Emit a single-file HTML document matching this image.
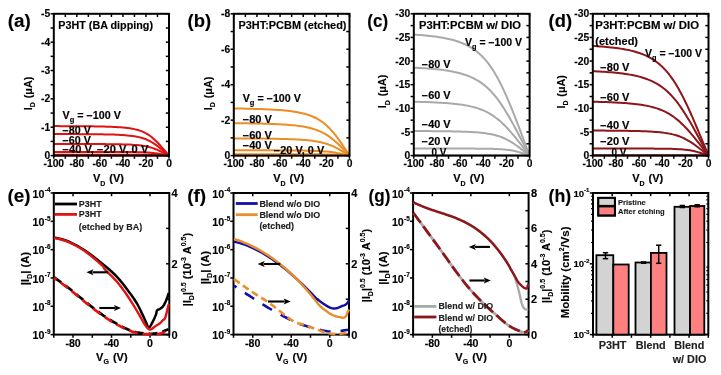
<!DOCTYPE html>
<html><head><meta charset="utf-8"><style>
html,body{margin:0;padding:0;background:#fff;}
body{width:721px;height:375px;overflow:hidden;}
svg{display:block;font-family:"Liberation Sans", sans-serif;will-change:transform;}
text{stroke:#000;stroke-width:0.15px;}
text[fill="#222"]{stroke-width:0.12px;}
</style></head><body>
<svg width="721" height="375" viewBox="0 0 721 375">
<path d="M53.8 126.11 L56.1 126.11 L58.41 126.12 L60.71 126.13 L63.02 126.13 L65.32 126.14 L67.62 126.15 L69.93 126.16 L72.23 126.18 L74.54 126.19 L76.84 126.2 L79.14 126.22 L81.45 126.24 L83.75 126.26 L86.06 126.28 L88.36 126.3 L90.66 126.33 L92.97 126.36 L95.27 126.39 L97.58 126.43 L99.88 126.47 L102.18 126.52 L104.49 126.58 L106.79 126.64 L109.1 126.71 L111.4 126.8 L113.7 126.89 L116.01 127.01 L118.31 127.14 L120.62 127.3 L122.92 127.48 L125.22 127.7 L127.53 127.96 L129.83 128.27 L132.14 128.65 L134.44 129.11 L136.74 129.66 L139.05 130.32 L141.35 131.13 L143.66 132.11 L145.96 133.28 L148.26 134.66 L150.57 136.29 L152.87 138.15 L155.18 140.24 L157.48 142.54 L159.78 145 L162.09 147.58 L164.39 150.23 L166.7 152.91 L169 155.6" fill="none" stroke="#e01212" stroke-width="2.0" stroke-linejoin="round"/>
<path d="M53.8 134.05 L56.1 134.05 L58.41 134.06 L60.71 134.06 L63.02 134.07 L65.32 134.07 L67.62 134.08 L69.93 134.09 L72.23 134.1 L74.54 134.11 L76.84 134.12 L79.14 134.13 L81.45 134.14 L83.75 134.16 L86.06 134.17 L88.36 134.19 L90.66 134.21 L92.97 134.23 L95.27 134.26 L97.58 134.28 L99.88 134.31 L102.18 134.35 L104.49 134.39 L106.79 134.44 L109.1 134.49 L111.4 134.55 L113.7 134.62 L116.01 134.71 L118.31 134.8 L120.62 134.92 L122.92 135.05 L125.22 135.21 L127.53 135.4 L129.83 135.63 L132.14 135.91 L134.44 136.24 L136.74 136.64 L139.05 137.13 L141.35 137.72 L143.66 138.43 L145.96 139.29 L148.26 140.3 L150.57 141.49 L152.87 142.85 L155.18 144.38 L157.48 146.06 L159.78 147.86 L162.09 149.74 L164.39 151.68 L166.7 153.63 L169 155.6" fill="none" stroke="#e01212" stroke-width="2.0" stroke-linejoin="round"/>
<path d="M53.8 143.97 L56.1 143.97 L58.41 143.98 L60.71 143.98 L63.02 143.98 L65.32 143.98 L67.62 143.99 L69.93 143.99 L72.23 143.99 L74.54 144 L76.84 144 L79.14 144.01 L81.45 144.01 L83.75 144.02 L86.06 144.02 L88.36 144.03 L90.66 144.04 L92.97 144.05 L95.27 144.06 L97.58 144.07 L99.88 144.08 L102.18 144.09 L104.49 144.11 L106.79 144.13 L109.1 144.15 L111.4 144.17 L113.7 144.2 L116.01 144.24 L118.31 144.28 L120.62 144.32 L122.92 144.38 L125.22 144.45 L127.53 144.53 L129.83 144.62 L132.14 144.74 L134.44 144.88 L136.74 145.06 L139.05 145.28 L141.35 145.55 L143.66 145.89 L145.96 146.3 L148.26 146.81 L150.57 147.42 L152.87 148.15 L155.18 148.99 L157.48 149.95 L159.78 150.99 L162.09 152.1 L164.39 153.25 L166.7 154.42 L169 155.6" fill="none" stroke="#e01212" stroke-width="2.0" stroke-linejoin="round"/>
<path d="M53.8 151.91 L56.1 151.91 L58.41 151.91 L60.71 151.91 L63.02 151.91 L65.32 151.92 L67.62 151.92 L69.93 151.92 L72.23 151.92 L74.54 151.92 L76.84 151.92 L79.14 151.92 L81.45 151.92 L83.75 151.92 L86.06 151.92 L88.36 151.92 L90.66 151.93 L92.97 151.93 L95.27 151.93 L97.58 151.93 L99.88 151.93 L102.18 151.94 L104.49 151.94 L106.79 151.94 L109.1 151.95 L111.4 151.95 L113.7 151.96 L116.01 151.96 L118.31 151.97 L120.62 151.98 L122.92 151.99 L125.22 152 L127.53 152.02 L129.83 152.04 L132.14 152.06 L134.44 152.09 L136.74 152.13 L139.05 152.18 L141.35 152.24 L143.66 152.32 L145.96 152.42 L148.26 152.55 L150.57 152.72 L152.87 152.93 L155.18 153.19 L157.48 153.51 L159.78 153.87 L162.09 154.28 L164.39 154.71 L166.7 155.15 L169 155.6" fill="none" stroke="#e01212" stroke-width="2.0" stroke-linejoin="round"/>
<path d="M53.8 154.75 L56.1 154.75 L58.41 154.75 L60.71 154.75 L63.02 154.75 L65.32 154.75 L67.62 154.75 L69.93 154.75 L72.23 154.75 L74.54 154.75 L76.84 154.75 L79.14 154.75 L81.45 154.75 L83.75 154.75 L86.06 154.75 L88.36 154.75 L90.66 154.75 L92.97 154.75 L95.27 154.75 L97.58 154.75 L99.88 154.75 L102.18 154.75 L104.49 154.75 L106.79 154.75 L109.1 154.75 L111.4 154.75 L113.7 154.75 L116.01 154.76 L118.31 154.76 L120.62 154.76 L122.92 154.76 L125.22 154.76 L127.53 154.76 L129.83 154.76 L132.14 154.77 L134.44 154.77 L136.74 154.78 L139.05 154.78 L141.35 154.79 L143.66 154.8 L145.96 154.82 L148.26 154.84 L150.57 154.87 L152.87 154.9 L155.18 154.96 L157.48 155.03 L159.78 155.12 L162.09 155.22 L164.39 155.34 L166.7 155.47 L169 155.6" fill="none" stroke="#e01212" stroke-width="2.0" stroke-linejoin="round"/>
<path d="M53.8 155.6 L56.1 155.6 L58.41 155.6 L60.71 155.6 L63.02 155.6 L65.32 155.6 L67.62 155.6 L69.93 155.6 L72.23 155.6 L74.54 155.6 L76.84 155.6 L79.14 155.6 L81.45 155.6 L83.75 155.6 L86.06 155.6 L88.36 155.6 L90.66 155.6 L92.97 155.6 L95.27 155.6 L97.58 155.6 L99.88 155.6 L102.18 155.6 L104.49 155.6 L106.79 155.6 L109.1 155.6 L111.4 155.6 L113.7 155.6 L116.01 155.6 L118.31 155.6 L120.62 155.6 L122.92 155.6 L125.22 155.6 L127.53 155.6 L129.83 155.6 L132.14 155.6 L134.44 155.6 L136.74 155.6 L139.05 155.6 L141.35 155.6 L143.66 155.6 L145.96 155.6 L148.26 155.6 L150.57 155.6 L152.87 155.6 L155.18 155.6 L157.48 155.6 L159.78 155.6 L162.09 155.6 L164.39 155.6 L166.7 155.6 L169 155.6" fill="none" stroke="#e01212" stroke-width="2.0" stroke-linejoin="round"/>
<rect x="53.8" y="13.8" width="115.2" height="141.8" fill="none" stroke="#000" stroke-width="2.0"/>
<line x1="53.8" y1="13.8" x2="53.8" y2="17" stroke="#000" stroke-width="1.5" stroke-linecap="butt"/>
<line x1="65.32" y1="13.8" x2="65.32" y2="17" stroke="#000" stroke-width="1.5" stroke-linecap="butt"/>
<line x1="76.84" y1="13.8" x2="76.84" y2="17" stroke="#000" stroke-width="1.5" stroke-linecap="butt"/>
<line x1="88.36" y1="13.8" x2="88.36" y2="17" stroke="#000" stroke-width="1.5" stroke-linecap="butt"/>
<line x1="99.88" y1="13.8" x2="99.88" y2="17" stroke="#000" stroke-width="1.5" stroke-linecap="butt"/>
<line x1="111.4" y1="13.8" x2="111.4" y2="17" stroke="#000" stroke-width="1.5" stroke-linecap="butt"/>
<line x1="122.92" y1="13.8" x2="122.92" y2="17" stroke="#000" stroke-width="1.5" stroke-linecap="butt"/>
<line x1="134.44" y1="13.8" x2="134.44" y2="17" stroke="#000" stroke-width="1.5" stroke-linecap="butt"/>
<line x1="145.96" y1="13.8" x2="145.96" y2="17" stroke="#000" stroke-width="1.5" stroke-linecap="butt"/>
<line x1="157.48" y1="13.8" x2="157.48" y2="17" stroke="#000" stroke-width="1.5" stroke-linecap="butt"/>
<line x1="169" y1="13.8" x2="169" y2="17" stroke="#000" stroke-width="1.5" stroke-linecap="butt"/>
<line x1="53.8" y1="155.6" x2="53.8" y2="158.8" stroke="#000" stroke-width="1.5" stroke-linecap="butt"/>
<line x1="65.32" y1="155.6" x2="65.32" y2="158.8" stroke="#000" stroke-width="1.5" stroke-linecap="butt"/>
<line x1="76.84" y1="155.6" x2="76.84" y2="158.8" stroke="#000" stroke-width="1.5" stroke-linecap="butt"/>
<line x1="88.36" y1="155.6" x2="88.36" y2="158.8" stroke="#000" stroke-width="1.5" stroke-linecap="butt"/>
<line x1="99.88" y1="155.6" x2="99.88" y2="158.8" stroke="#000" stroke-width="1.5" stroke-linecap="butt"/>
<line x1="111.4" y1="155.6" x2="111.4" y2="158.8" stroke="#000" stroke-width="1.5" stroke-linecap="butt"/>
<line x1="122.92" y1="155.6" x2="122.92" y2="158.8" stroke="#000" stroke-width="1.5" stroke-linecap="butt"/>
<line x1="134.44" y1="155.6" x2="134.44" y2="158.8" stroke="#000" stroke-width="1.5" stroke-linecap="butt"/>
<line x1="145.96" y1="155.6" x2="145.96" y2="158.8" stroke="#000" stroke-width="1.5" stroke-linecap="butt"/>
<line x1="157.48" y1="155.6" x2="157.48" y2="158.8" stroke="#000" stroke-width="1.5" stroke-linecap="butt"/>
<line x1="169" y1="155.6" x2="169" y2="158.8" stroke="#000" stroke-width="1.5" stroke-linecap="butt"/>
<line x1="50.6" y1="155.6" x2="53.8" y2="155.6" stroke="#000" stroke-width="1.5" stroke-linecap="butt"/>
<line x1="165.8" y1="155.6" x2="169" y2="155.6" stroke="#000" stroke-width="1.5" stroke-linecap="butt"/>
<line x1="50.6" y1="141.42" x2="53.8" y2="141.42" stroke="#000" stroke-width="1.5" stroke-linecap="butt"/>
<line x1="165.8" y1="141.42" x2="169" y2="141.42" stroke="#000" stroke-width="1.5" stroke-linecap="butt"/>
<line x1="50.6" y1="127.24" x2="53.8" y2="127.24" stroke="#000" stroke-width="1.5" stroke-linecap="butt"/>
<line x1="165.8" y1="127.24" x2="169" y2="127.24" stroke="#000" stroke-width="1.5" stroke-linecap="butt"/>
<line x1="50.6" y1="113.06" x2="53.8" y2="113.06" stroke="#000" stroke-width="1.5" stroke-linecap="butt"/>
<line x1="165.8" y1="113.06" x2="169" y2="113.06" stroke="#000" stroke-width="1.5" stroke-linecap="butt"/>
<line x1="50.6" y1="98.88" x2="53.8" y2="98.88" stroke="#000" stroke-width="1.5" stroke-linecap="butt"/>
<line x1="165.8" y1="98.88" x2="169" y2="98.88" stroke="#000" stroke-width="1.5" stroke-linecap="butt"/>
<line x1="50.6" y1="84.7" x2="53.8" y2="84.7" stroke="#000" stroke-width="1.5" stroke-linecap="butt"/>
<line x1="165.8" y1="84.7" x2="169" y2="84.7" stroke="#000" stroke-width="1.5" stroke-linecap="butt"/>
<line x1="50.6" y1="70.52" x2="53.8" y2="70.52" stroke="#000" stroke-width="1.5" stroke-linecap="butt"/>
<line x1="165.8" y1="70.52" x2="169" y2="70.52" stroke="#000" stroke-width="1.5" stroke-linecap="butt"/>
<line x1="50.6" y1="56.34" x2="53.8" y2="56.34" stroke="#000" stroke-width="1.5" stroke-linecap="butt"/>
<line x1="165.8" y1="56.34" x2="169" y2="56.34" stroke="#000" stroke-width="1.5" stroke-linecap="butt"/>
<line x1="50.6" y1="42.16" x2="53.8" y2="42.16" stroke="#000" stroke-width="1.5" stroke-linecap="butt"/>
<line x1="165.8" y1="42.16" x2="169" y2="42.16" stroke="#000" stroke-width="1.5" stroke-linecap="butt"/>
<line x1="50.6" y1="27.98" x2="53.8" y2="27.98" stroke="#000" stroke-width="1.5" stroke-linecap="butt"/>
<line x1="165.8" y1="27.98" x2="169" y2="27.98" stroke="#000" stroke-width="1.5" stroke-linecap="butt"/>
<line x1="50.6" y1="13.8" x2="53.8" y2="13.8" stroke="#000" stroke-width="1.5" stroke-linecap="butt"/>
<line x1="165.8" y1="13.8" x2="169" y2="13.8" stroke="#000" stroke-width="1.5" stroke-linecap="butt"/>
<text x="50.2" y="159.2" font-size="10.3" font-weight="bold" text-anchor="end" fill="#000">0</text>
<text x="50.2" y="130.84" font-size="10.3" font-weight="bold" text-anchor="end" fill="#000">-1</text>
<text x="50.2" y="102.48" font-size="10.3" font-weight="bold" text-anchor="end" fill="#000">-2</text>
<text x="50.2" y="74.12" font-size="10.3" font-weight="bold" text-anchor="end" fill="#000">-3</text>
<text x="50.2" y="45.76" font-size="10.3" font-weight="bold" text-anchor="end" fill="#000">-4</text>
<text x="50.2" y="17.4" font-size="10.3" font-weight="bold" text-anchor="end" fill="#000">-5</text>
<text x="53.8" y="167.2" font-size="10.3" font-weight="bold" text-anchor="middle" fill="#000">-100</text>
<text x="76.84" y="167.2" font-size="10.3" font-weight="bold" text-anchor="middle" fill="#000">-80</text>
<text x="99.88" y="167.2" font-size="10.3" font-weight="bold" text-anchor="middle" fill="#000">-60</text>
<text x="122.92" y="167.2" font-size="10.3" font-weight="bold" text-anchor="middle" fill="#000">-40</text>
<text x="145.96" y="167.2" font-size="10.3" font-weight="bold" text-anchor="middle" fill="#000">-20</text>
<text x="169" y="167.2" font-size="10.3" font-weight="bold" text-anchor="middle" fill="#000">0</text>
<text x="92.9" y="182.3" font-size="11" font-weight="bold">V<tspan font-size="7" dy="3.5">D</tspan><tspan dy="-3.5" dx="1"> (V)</tspan></text>
<text x="31.6" y="110.2" font-size="11" font-weight="bold" textLength="33.5" lengthAdjust="spacingAndGlyphs" transform="rotate(-90 31.6 110.2)">I<tspan font-size="7" dy="3.5">D</tspan><tspan dy="-3.5" dx="1"> (μA)</tspan></text>
<path d="M233.8 108.45 L236.11 108.49 L238.43 108.53 L240.74 108.57 L243.06 108.61 L245.37 108.66 L247.68 108.71 L250 108.76 L252.31 108.82 L254.63 108.89 L256.94 108.96 L259.25 109.03 L261.57 109.11 L263.88 109.2 L266.2 109.3 L268.51 109.41 L270.82 109.52 L273.14 109.65 L275.45 109.79 L277.77 109.95 L280.08 110.12 L282.39 110.31 L284.71 110.53 L287.02 110.76 L289.34 111.03 L291.65 111.32 L293.96 111.65 L296.28 112.03 L298.59 112.45 L300.91 112.92 L303.22 113.46 L305.53 114.07 L307.85 114.77 L310.16 115.56 L312.48 116.47 L314.79 117.5 L317.1 118.68 L319.42 120.03 L321.73 121.55 L324.05 123.28 L326.36 125.23 L328.67 127.41 L330.99 129.83 L333.3 132.48 L335.62 135.36 L337.93 138.44 L340.24 141.68 L342.56 145.06 L344.87 148.53 L347.19 152.06 L349.5 155.6" fill="none" stroke="#ee8c24" stroke-width="2.0" stroke-linejoin="round"/>
<path d="M233.8 123.16 L236.11 123.19 L238.43 123.21 L240.74 123.24 L243.06 123.27 L245.37 123.3 L247.68 123.34 L250 123.38 L252.31 123.42 L254.63 123.46 L256.94 123.51 L259.25 123.56 L261.57 123.62 L263.88 123.68 L266.2 123.75 L268.51 123.82 L270.82 123.9 L273.14 123.99 L275.45 124.09 L277.77 124.19 L280.08 124.31 L282.39 124.44 L284.71 124.59 L287.02 124.75 L289.34 124.93 L291.65 125.14 L293.96 125.37 L296.28 125.62 L298.59 125.91 L300.91 126.24 L303.22 126.61 L305.53 127.03 L307.85 127.51 L310.16 128.06 L312.48 128.68 L314.79 129.39 L317.1 130.2 L319.42 131.13 L321.73 132.18 L324.05 133.37 L326.36 134.71 L328.67 136.21 L330.99 137.87 L333.3 139.7 L335.62 141.67 L337.93 143.79 L340.24 146.03 L342.56 148.35 L344.87 150.74 L347.19 153.16 L349.5 155.6" fill="none" stroke="#ee8c24" stroke-width="2.0" stroke-linejoin="round"/>
<path d="M233.8 138.41 L236.11 138.42 L238.43 138.43 L240.74 138.44 L243.06 138.45 L245.37 138.47 L247.68 138.48 L250 138.5 L252.31 138.51 L254.63 138.53 L256.94 138.55 L259.25 138.57 L261.57 138.59 L263.88 138.62 L266.2 138.65 L268.51 138.68 L270.82 138.71 L273.14 138.75 L275.45 138.79 L277.77 138.84 L280.08 138.89 L282.39 138.94 L284.71 139 L287.02 139.07 L289.34 139.15 L291.65 139.24 L293.96 139.34 L296.28 139.45 L298.59 139.57 L300.91 139.72 L303.22 139.88 L305.53 140.07 L307.85 140.29 L310.16 140.53 L312.48 140.82 L314.79 141.15 L317.1 141.54 L319.42 141.99 L321.73 142.5 L324.05 143.1 L326.36 143.78 L328.67 144.56 L330.99 145.45 L333.3 146.44 L335.62 147.54 L337.93 148.73 L340.24 150.01 L342.56 151.36 L344.87 152.75 L347.19 154.17 L349.5 155.6" fill="none" stroke="#ee8c24" stroke-width="2.0" stroke-linejoin="round"/>
<path d="M233.8 150.28 L236.11 150.28 L238.43 150.29 L240.74 150.29 L243.06 150.29 L245.37 150.29 L247.68 150.3 L250 150.3 L252.31 150.3 L254.63 150.31 L256.94 150.31 L259.25 150.32 L261.57 150.32 L263.88 150.33 L266.2 150.33 L268.51 150.34 L270.82 150.34 L273.14 150.35 L275.45 150.36 L277.77 150.37 L280.08 150.38 L282.39 150.39 L284.71 150.4 L287.02 150.42 L289.34 150.43 L291.65 150.45 L293.96 150.47 L296.28 150.5 L298.59 150.52 L300.91 150.55 L303.22 150.59 L305.53 150.63 L307.85 150.68 L310.16 150.74 L312.48 150.8 L314.79 150.88 L317.1 150.98 L319.42 151.09 L321.73 151.22 L324.05 151.38 L326.36 151.57 L328.67 151.79 L330.99 152.05 L333.3 152.36 L335.62 152.72 L337.93 153.12 L340.24 153.56 L342.56 154.04 L344.87 154.55 L347.19 155.07 L349.5 155.6" fill="none" stroke="#ee8c24" stroke-width="2.0" stroke-linejoin="round"/>
<path d="M233.8 154.18 L236.11 154.18 L238.43 154.18 L240.74 154.18 L243.06 154.18 L245.37 154.18 L247.68 154.18 L250 154.18 L252.31 154.19 L254.63 154.19 L256.94 154.19 L259.25 154.19 L261.57 154.19 L263.88 154.19 L266.2 154.19 L268.51 154.19 L270.82 154.19 L273.14 154.19 L275.45 154.19 L277.77 154.2 L280.08 154.2 L282.39 154.2 L284.71 154.2 L287.02 154.2 L289.34 154.21 L291.65 154.21 L293.96 154.21 L296.28 154.22 L298.59 154.22 L300.91 154.23 L303.22 154.23 L305.53 154.24 L307.85 154.25 L310.16 154.26 L312.48 154.27 L314.79 154.28 L317.1 154.3 L319.42 154.32 L321.73 154.35 L324.05 154.38 L326.36 154.42 L328.67 154.47 L330.99 154.53 L333.3 154.6 L335.62 154.7 L337.93 154.81 L340.24 154.94 L342.56 155.09 L344.87 155.25 L347.19 155.42 L349.5 155.6" fill="none" stroke="#ee8c24" stroke-width="2.0" stroke-linejoin="round"/>
<path d="M233.8 155.6 L236.11 155.6 L238.43 155.6 L240.74 155.6 L243.06 155.6 L245.37 155.6 L247.68 155.6 L250 155.6 L252.31 155.6 L254.63 155.6 L256.94 155.6 L259.25 155.6 L261.57 155.6 L263.88 155.6 L266.2 155.6 L268.51 155.6 L270.82 155.6 L273.14 155.6 L275.45 155.6 L277.77 155.6 L280.08 155.6 L282.39 155.6 L284.71 155.6 L287.02 155.6 L289.34 155.6 L291.65 155.6 L293.96 155.6 L296.28 155.6 L298.59 155.6 L300.91 155.6 L303.22 155.6 L305.53 155.6 L307.85 155.6 L310.16 155.6 L312.48 155.6 L314.79 155.6 L317.1 155.6 L319.42 155.6 L321.73 155.6 L324.05 155.6 L326.36 155.6 L328.67 155.6 L330.99 155.6 L333.3 155.6 L335.62 155.6 L337.93 155.6 L340.24 155.6 L342.56 155.6 L344.87 155.6 L347.19 155.6 L349.5 155.6" fill="none" stroke="#ee8c24" stroke-width="2.0" stroke-linejoin="round"/>
<rect x="233.8" y="13.8" width="115.7" height="141.8" fill="none" stroke="#000" stroke-width="2.0"/>
<line x1="233.8" y1="13.8" x2="233.8" y2="17" stroke="#000" stroke-width="1.5" stroke-linecap="butt"/>
<line x1="245.37" y1="13.8" x2="245.37" y2="17" stroke="#000" stroke-width="1.5" stroke-linecap="butt"/>
<line x1="256.94" y1="13.8" x2="256.94" y2="17" stroke="#000" stroke-width="1.5" stroke-linecap="butt"/>
<line x1="268.51" y1="13.8" x2="268.51" y2="17" stroke="#000" stroke-width="1.5" stroke-linecap="butt"/>
<line x1="280.08" y1="13.8" x2="280.08" y2="17" stroke="#000" stroke-width="1.5" stroke-linecap="butt"/>
<line x1="291.65" y1="13.8" x2="291.65" y2="17" stroke="#000" stroke-width="1.5" stroke-linecap="butt"/>
<line x1="303.22" y1="13.8" x2="303.22" y2="17" stroke="#000" stroke-width="1.5" stroke-linecap="butt"/>
<line x1="314.79" y1="13.8" x2="314.79" y2="17" stroke="#000" stroke-width="1.5" stroke-linecap="butt"/>
<line x1="326.36" y1="13.8" x2="326.36" y2="17" stroke="#000" stroke-width="1.5" stroke-linecap="butt"/>
<line x1="337.93" y1="13.8" x2="337.93" y2="17" stroke="#000" stroke-width="1.5" stroke-linecap="butt"/>
<line x1="349.5" y1="13.8" x2="349.5" y2="17" stroke="#000" stroke-width="1.5" stroke-linecap="butt"/>
<line x1="233.8" y1="155.6" x2="233.8" y2="158.8" stroke="#000" stroke-width="1.5" stroke-linecap="butt"/>
<line x1="245.37" y1="155.6" x2="245.37" y2="158.8" stroke="#000" stroke-width="1.5" stroke-linecap="butt"/>
<line x1="256.94" y1="155.6" x2="256.94" y2="158.8" stroke="#000" stroke-width="1.5" stroke-linecap="butt"/>
<line x1="268.51" y1="155.6" x2="268.51" y2="158.8" stroke="#000" stroke-width="1.5" stroke-linecap="butt"/>
<line x1="280.08" y1="155.6" x2="280.08" y2="158.8" stroke="#000" stroke-width="1.5" stroke-linecap="butt"/>
<line x1="291.65" y1="155.6" x2="291.65" y2="158.8" stroke="#000" stroke-width="1.5" stroke-linecap="butt"/>
<line x1="303.22" y1="155.6" x2="303.22" y2="158.8" stroke="#000" stroke-width="1.5" stroke-linecap="butt"/>
<line x1="314.79" y1="155.6" x2="314.79" y2="158.8" stroke="#000" stroke-width="1.5" stroke-linecap="butt"/>
<line x1="326.36" y1="155.6" x2="326.36" y2="158.8" stroke="#000" stroke-width="1.5" stroke-linecap="butt"/>
<line x1="337.93" y1="155.6" x2="337.93" y2="158.8" stroke="#000" stroke-width="1.5" stroke-linecap="butt"/>
<line x1="349.5" y1="155.6" x2="349.5" y2="158.8" stroke="#000" stroke-width="1.5" stroke-linecap="butt"/>
<line x1="230.6" y1="155.6" x2="233.8" y2="155.6" stroke="#000" stroke-width="1.5" stroke-linecap="butt"/>
<line x1="346.3" y1="155.6" x2="349.5" y2="155.6" stroke="#000" stroke-width="1.5" stroke-linecap="butt"/>
<line x1="230.6" y1="137.88" x2="233.8" y2="137.88" stroke="#000" stroke-width="1.5" stroke-linecap="butt"/>
<line x1="346.3" y1="137.88" x2="349.5" y2="137.88" stroke="#000" stroke-width="1.5" stroke-linecap="butt"/>
<line x1="230.6" y1="120.15" x2="233.8" y2="120.15" stroke="#000" stroke-width="1.5" stroke-linecap="butt"/>
<line x1="346.3" y1="120.15" x2="349.5" y2="120.15" stroke="#000" stroke-width="1.5" stroke-linecap="butt"/>
<line x1="230.6" y1="102.42" x2="233.8" y2="102.42" stroke="#000" stroke-width="1.5" stroke-linecap="butt"/>
<line x1="346.3" y1="102.42" x2="349.5" y2="102.42" stroke="#000" stroke-width="1.5" stroke-linecap="butt"/>
<line x1="230.6" y1="84.7" x2="233.8" y2="84.7" stroke="#000" stroke-width="1.5" stroke-linecap="butt"/>
<line x1="346.3" y1="84.7" x2="349.5" y2="84.7" stroke="#000" stroke-width="1.5" stroke-linecap="butt"/>
<line x1="230.6" y1="66.98" x2="233.8" y2="66.98" stroke="#000" stroke-width="1.5" stroke-linecap="butt"/>
<line x1="346.3" y1="66.98" x2="349.5" y2="66.98" stroke="#000" stroke-width="1.5" stroke-linecap="butt"/>
<line x1="230.6" y1="49.25" x2="233.8" y2="49.25" stroke="#000" stroke-width="1.5" stroke-linecap="butt"/>
<line x1="346.3" y1="49.25" x2="349.5" y2="49.25" stroke="#000" stroke-width="1.5" stroke-linecap="butt"/>
<line x1="230.6" y1="31.53" x2="233.8" y2="31.53" stroke="#000" stroke-width="1.5" stroke-linecap="butt"/>
<line x1="346.3" y1="31.53" x2="349.5" y2="31.53" stroke="#000" stroke-width="1.5" stroke-linecap="butt"/>
<line x1="230.6" y1="13.8" x2="233.8" y2="13.8" stroke="#000" stroke-width="1.5" stroke-linecap="butt"/>
<line x1="346.3" y1="13.8" x2="349.5" y2="13.8" stroke="#000" stroke-width="1.5" stroke-linecap="butt"/>
<text x="230.2" y="159.2" font-size="10.3" font-weight="bold" text-anchor="end" fill="#000">0</text>
<text x="230.2" y="123.75" font-size="10.3" font-weight="bold" text-anchor="end" fill="#000">-2</text>
<text x="230.2" y="88.3" font-size="10.3" font-weight="bold" text-anchor="end" fill="#000">-4</text>
<text x="230.2" y="52.85" font-size="10.3" font-weight="bold" text-anchor="end" fill="#000">-6</text>
<text x="230.2" y="17.4" font-size="10.3" font-weight="bold" text-anchor="end" fill="#000">-8</text>
<text x="233.8" y="167.2" font-size="10.3" font-weight="bold" text-anchor="middle" fill="#000">-100</text>
<text x="256.94" y="167.2" font-size="10.3" font-weight="bold" text-anchor="middle" fill="#000">-80</text>
<text x="280.08" y="167.2" font-size="10.3" font-weight="bold" text-anchor="middle" fill="#000">-60</text>
<text x="303.22" y="167.2" font-size="10.3" font-weight="bold" text-anchor="middle" fill="#000">-40</text>
<text x="326.36" y="167.2" font-size="10.3" font-weight="bold" text-anchor="middle" fill="#000">-20</text>
<text x="349.5" y="167.2" font-size="10.3" font-weight="bold" text-anchor="middle" fill="#000">0</text>
<text x="273.15" y="182.3" font-size="11" font-weight="bold">V<tspan font-size="7" dy="3.5">D</tspan><tspan dy="-3.5" dx="1"> (V)</tspan></text>
<text x="211.8" y="110.2" font-size="11" font-weight="bold" textLength="33.5" lengthAdjust="spacingAndGlyphs" transform="rotate(-90 211.8 110.2)">I<tspan font-size="7" dy="3.5">D</tspan><tspan dy="-3.5" dx="1"> (μA)</tspan></text>
<path d="M413.8 34.6 L416.12 34.75 L418.43 34.91 L420.75 35.09 L423.06 35.28 L425.38 35.49 L427.7 35.71 L430.01 35.95 L432.33 36.22 L434.64 36.51 L436.96 36.83 L439.28 37.17 L441.59 37.55 L443.91 37.96 L446.22 38.42 L448.54 38.92 L450.86 39.47 L453.17 40.07 L455.49 40.74 L457.8 41.49 L460.12 42.31 L462.44 43.22 L464.75 44.22 L467.07 45.34 L469.38 46.59 L471.7 47.97 L474.02 49.51 L476.33 51.22 L478.65 53.12 L480.96 55.22 L483.28 57.55 L485.6 60.13 L487.91 62.97 L490.23 66.09 L492.54 69.5 L494.86 73.21 L497.18 77.22 L499.49 81.54 L501.81 86.16 L504.12 91.06 L506.44 96.21 L508.76 101.6 L511.07 107.2 L513.39 112.97 L515.7 118.87 L518.02 124.88 L520.34 130.96 L522.65 137.09 L524.97 143.25 L527.28 149.42 L529.6 155.6" fill="none" stroke="#a9a9a9" stroke-width="2.0" stroke-linejoin="round"/>
<path d="M413.8 67.68 L416.12 67.79 L418.43 67.91 L420.75 68.04 L423.06 68.18 L425.38 68.33 L427.7 68.49 L430.01 68.67 L432.33 68.86 L434.64 69.07 L436.96 69.3 L439.28 69.55 L441.59 69.83 L443.91 70.13 L446.22 70.46 L448.54 70.82 L450.86 71.22 L453.17 71.66 L455.49 72.15 L457.8 72.69 L460.12 73.28 L462.44 73.95 L464.75 74.68 L467.07 75.49 L469.38 76.4 L471.7 77.4 L474.02 78.52 L476.33 79.76 L478.65 81.14 L480.96 82.67 L483.28 84.36 L485.6 86.24 L487.91 88.3 L490.23 90.56 L492.54 93.04 L494.86 95.74 L497.18 98.66 L499.49 101.79 L501.81 105.15 L504.12 108.7 L506.44 112.45 L508.76 116.37 L511.07 120.43 L513.39 124.62 L515.7 128.91 L518.02 133.28 L520.34 137.7 L522.65 142.15 L524.97 146.63 L527.28 151.11 L529.6 155.6" fill="none" stroke="#a9a9a9" stroke-width="2.0" stroke-linejoin="round"/>
<path d="M413.8 101.72 L416.12 101.77 L418.43 101.83 L420.75 101.89 L423.06 101.96 L425.38 102.03 L427.7 102.11 L430.01 102.2 L432.33 102.29 L434.64 102.39 L436.96 102.5 L439.28 102.63 L441.59 102.76 L443.91 102.91 L446.22 103.08 L448.54 103.26 L450.86 103.46 L453.17 103.68 L455.49 103.92 L457.8 104.19 L460.12 104.5 L462.44 104.83 L464.75 105.21 L467.07 105.63 L469.38 106.1 L471.7 106.63 L474.02 107.22 L476.33 107.89 L478.65 108.63 L480.96 109.46 L483.28 110.4 L485.6 111.45 L487.91 112.62 L490.23 113.92 L492.54 115.36 L494.86 116.95 L497.18 118.7 L499.49 120.61 L501.81 122.68 L504.12 124.91 L506.44 127.28 L508.76 129.78 L511.07 132.41 L513.39 135.13 L515.7 137.94 L518.02 140.82 L520.34 143.74 L522.65 146.68 L524.97 149.65 L527.28 152.62 L529.6 155.6" fill="none" stroke="#a9a9a9" stroke-width="2.0" stroke-linejoin="round"/>
<path d="M413.8 131.02 L416.12 131.03 L418.43 131.04 L420.75 131.05 L423.06 131.07 L425.38 131.08 L427.7 131.1 L430.01 131.11 L432.33 131.13 L434.64 131.15 L436.96 131.17 L439.28 131.2 L441.59 131.22 L443.91 131.25 L446.22 131.29 L448.54 131.32 L450.86 131.36 L453.17 131.41 L455.49 131.46 L457.8 131.52 L460.12 131.58 L462.44 131.65 L464.75 131.74 L467.07 131.83 L469.38 131.94 L471.7 132.06 L474.02 132.2 L476.33 132.36 L478.65 132.55 L480.96 132.76 L483.28 133.01 L485.6 133.3 L487.91 133.65 L490.23 134.04 L492.54 134.51 L494.86 135.05 L497.18 135.68 L499.49 136.41 L501.81 137.26 L504.12 138.23 L506.44 139.33 L508.76 140.56 L511.07 141.92 L513.39 143.4 L515.7 144.98 L518.02 146.65 L520.34 148.38 L522.65 150.16 L524.97 151.97 L527.28 153.78 L529.6 155.6" fill="none" stroke="#a9a9a9" stroke-width="2.0" stroke-linejoin="round"/>
<path d="M413.8 148.51 L416.12 148.51 L418.43 148.51 L420.75 148.51 L423.06 148.51 L425.38 148.52 L427.7 148.52 L430.01 148.52 L432.33 148.52 L434.64 148.52 L436.96 148.52 L439.28 148.53 L441.59 148.53 L443.91 148.53 L446.22 148.53 L448.54 148.54 L450.86 148.54 L453.17 148.54 L455.49 148.55 L457.8 148.55 L460.12 148.56 L462.44 148.57 L464.75 148.57 L467.07 148.58 L469.38 148.59 L471.7 148.6 L474.02 148.62 L476.33 148.63 L478.65 148.65 L480.96 148.67 L483.28 148.7 L485.6 148.73 L487.91 148.77 L490.23 148.82 L492.54 148.87 L494.86 148.94 L497.18 149.03 L499.49 149.14 L501.81 149.28 L504.12 149.46 L506.44 149.68 L508.76 149.96 L511.07 150.31 L513.39 150.74 L515.7 151.26 L518.02 151.86 L520.34 152.53 L522.65 153.26 L524.97 154.03 L527.28 154.81 L529.6 155.6" fill="none" stroke="#a9a9a9" stroke-width="2.0" stroke-linejoin="round"/>
<path d="M413.8 155.13 L416.12 155.13 L418.43 155.13 L420.75 155.13 L423.06 155.13 L425.38 155.13 L427.7 155.13 L430.01 155.13 L432.33 155.13 L434.64 155.13 L436.96 155.13 L439.28 155.13 L441.59 155.13 L443.91 155.13 L446.22 155.13 L448.54 155.13 L450.86 155.13 L453.17 155.13 L455.49 155.13 L457.8 155.13 L460.12 155.13 L462.44 155.13 L464.75 155.13 L467.07 155.13 L469.38 155.13 L471.7 155.13 L474.02 155.13 L476.33 155.13 L478.65 155.13 L480.96 155.13 L483.28 155.13 L485.6 155.13 L487.91 155.13 L490.23 155.13 L492.54 155.14 L494.86 155.14 L497.18 155.14 L499.49 155.14 L501.81 155.15 L504.12 155.15 L506.44 155.16 L508.76 155.17 L511.07 155.18 L513.39 155.2 L515.7 155.22 L518.02 155.26 L520.34 155.31 L522.65 155.37 L524.97 155.44 L527.28 155.52 L529.6 155.6" fill="none" stroke="#a9a9a9" stroke-width="2.0" stroke-linejoin="round"/>
<rect x="413.8" y="13.8" width="115.8" height="141.8" fill="none" stroke="#000" stroke-width="2.0"/>
<line x1="413.8" y1="13.8" x2="413.8" y2="17" stroke="#000" stroke-width="1.5" stroke-linecap="butt"/>
<line x1="425.38" y1="13.8" x2="425.38" y2="17" stroke="#000" stroke-width="1.5" stroke-linecap="butt"/>
<line x1="436.96" y1="13.8" x2="436.96" y2="17" stroke="#000" stroke-width="1.5" stroke-linecap="butt"/>
<line x1="448.54" y1="13.8" x2="448.54" y2="17" stroke="#000" stroke-width="1.5" stroke-linecap="butt"/>
<line x1="460.12" y1="13.8" x2="460.12" y2="17" stroke="#000" stroke-width="1.5" stroke-linecap="butt"/>
<line x1="471.7" y1="13.8" x2="471.7" y2="17" stroke="#000" stroke-width="1.5" stroke-linecap="butt"/>
<line x1="483.28" y1="13.8" x2="483.28" y2="17" stroke="#000" stroke-width="1.5" stroke-linecap="butt"/>
<line x1="494.86" y1="13.8" x2="494.86" y2="17" stroke="#000" stroke-width="1.5" stroke-linecap="butt"/>
<line x1="506.44" y1="13.8" x2="506.44" y2="17" stroke="#000" stroke-width="1.5" stroke-linecap="butt"/>
<line x1="518.02" y1="13.8" x2="518.02" y2="17" stroke="#000" stroke-width="1.5" stroke-linecap="butt"/>
<line x1="529.6" y1="13.8" x2="529.6" y2="17" stroke="#000" stroke-width="1.5" stroke-linecap="butt"/>
<line x1="413.8" y1="155.6" x2="413.8" y2="158.8" stroke="#000" stroke-width="1.5" stroke-linecap="butt"/>
<line x1="425.38" y1="155.6" x2="425.38" y2="158.8" stroke="#000" stroke-width="1.5" stroke-linecap="butt"/>
<line x1="436.96" y1="155.6" x2="436.96" y2="158.8" stroke="#000" stroke-width="1.5" stroke-linecap="butt"/>
<line x1="448.54" y1="155.6" x2="448.54" y2="158.8" stroke="#000" stroke-width="1.5" stroke-linecap="butt"/>
<line x1="460.12" y1="155.6" x2="460.12" y2="158.8" stroke="#000" stroke-width="1.5" stroke-linecap="butt"/>
<line x1="471.7" y1="155.6" x2="471.7" y2="158.8" stroke="#000" stroke-width="1.5" stroke-linecap="butt"/>
<line x1="483.28" y1="155.6" x2="483.28" y2="158.8" stroke="#000" stroke-width="1.5" stroke-linecap="butt"/>
<line x1="494.86" y1="155.6" x2="494.86" y2="158.8" stroke="#000" stroke-width="1.5" stroke-linecap="butt"/>
<line x1="506.44" y1="155.6" x2="506.44" y2="158.8" stroke="#000" stroke-width="1.5" stroke-linecap="butt"/>
<line x1="518.02" y1="155.6" x2="518.02" y2="158.8" stroke="#000" stroke-width="1.5" stroke-linecap="butt"/>
<line x1="529.6" y1="155.6" x2="529.6" y2="158.8" stroke="#000" stroke-width="1.5" stroke-linecap="butt"/>
<line x1="410.6" y1="155.6" x2="413.8" y2="155.6" stroke="#000" stroke-width="1.5" stroke-linecap="butt"/>
<line x1="526.4" y1="155.6" x2="529.6" y2="155.6" stroke="#000" stroke-width="1.5" stroke-linecap="butt"/>
<line x1="410.6" y1="143.78" x2="413.8" y2="143.78" stroke="#000" stroke-width="1.5" stroke-linecap="butt"/>
<line x1="526.4" y1="143.78" x2="529.6" y2="143.78" stroke="#000" stroke-width="1.5" stroke-linecap="butt"/>
<line x1="410.6" y1="131.97" x2="413.8" y2="131.97" stroke="#000" stroke-width="1.5" stroke-linecap="butt"/>
<line x1="526.4" y1="131.97" x2="529.6" y2="131.97" stroke="#000" stroke-width="1.5" stroke-linecap="butt"/>
<line x1="410.6" y1="120.15" x2="413.8" y2="120.15" stroke="#000" stroke-width="1.5" stroke-linecap="butt"/>
<line x1="526.4" y1="120.15" x2="529.6" y2="120.15" stroke="#000" stroke-width="1.5" stroke-linecap="butt"/>
<line x1="410.6" y1="108.33" x2="413.8" y2="108.33" stroke="#000" stroke-width="1.5" stroke-linecap="butt"/>
<line x1="526.4" y1="108.33" x2="529.6" y2="108.33" stroke="#000" stroke-width="1.5" stroke-linecap="butt"/>
<line x1="410.6" y1="96.52" x2="413.8" y2="96.52" stroke="#000" stroke-width="1.5" stroke-linecap="butt"/>
<line x1="526.4" y1="96.52" x2="529.6" y2="96.52" stroke="#000" stroke-width="1.5" stroke-linecap="butt"/>
<line x1="410.6" y1="84.7" x2="413.8" y2="84.7" stroke="#000" stroke-width="1.5" stroke-linecap="butt"/>
<line x1="526.4" y1="84.7" x2="529.6" y2="84.7" stroke="#000" stroke-width="1.5" stroke-linecap="butt"/>
<line x1="410.6" y1="72.88" x2="413.8" y2="72.88" stroke="#000" stroke-width="1.5" stroke-linecap="butt"/>
<line x1="526.4" y1="72.88" x2="529.6" y2="72.88" stroke="#000" stroke-width="1.5" stroke-linecap="butt"/>
<line x1="410.6" y1="61.07" x2="413.8" y2="61.07" stroke="#000" stroke-width="1.5" stroke-linecap="butt"/>
<line x1="526.4" y1="61.07" x2="529.6" y2="61.07" stroke="#000" stroke-width="1.5" stroke-linecap="butt"/>
<line x1="410.6" y1="49.25" x2="413.8" y2="49.25" stroke="#000" stroke-width="1.5" stroke-linecap="butt"/>
<line x1="526.4" y1="49.25" x2="529.6" y2="49.25" stroke="#000" stroke-width="1.5" stroke-linecap="butt"/>
<line x1="410.6" y1="37.43" x2="413.8" y2="37.43" stroke="#000" stroke-width="1.5" stroke-linecap="butt"/>
<line x1="526.4" y1="37.43" x2="529.6" y2="37.43" stroke="#000" stroke-width="1.5" stroke-linecap="butt"/>
<line x1="410.6" y1="25.62" x2="413.8" y2="25.62" stroke="#000" stroke-width="1.5" stroke-linecap="butt"/>
<line x1="526.4" y1="25.62" x2="529.6" y2="25.62" stroke="#000" stroke-width="1.5" stroke-linecap="butt"/>
<line x1="410.6" y1="13.8" x2="413.8" y2="13.8" stroke="#000" stroke-width="1.5" stroke-linecap="butt"/>
<line x1="526.4" y1="13.8" x2="529.6" y2="13.8" stroke="#000" stroke-width="1.5" stroke-linecap="butt"/>
<text x="410.2" y="159.2" font-size="10.3" font-weight="bold" text-anchor="end" fill="#000">0</text>
<text x="410.2" y="135.57" font-size="10.3" font-weight="bold" text-anchor="end" fill="#000">-5</text>
<text x="410.2" y="111.93" font-size="10.3" font-weight="bold" text-anchor="end" fill="#000">-10</text>
<text x="410.2" y="88.3" font-size="10.3" font-weight="bold" text-anchor="end" fill="#000">-15</text>
<text x="410.2" y="64.67" font-size="10.3" font-weight="bold" text-anchor="end" fill="#000">-20</text>
<text x="410.2" y="41.03" font-size="10.3" font-weight="bold" text-anchor="end" fill="#000">-25</text>
<text x="410.2" y="17.4" font-size="10.3" font-weight="bold" text-anchor="end" fill="#000">-30</text>
<text x="413.8" y="167.2" font-size="10.3" font-weight="bold" text-anchor="middle" fill="#000">-100</text>
<text x="436.96" y="167.2" font-size="10.3" font-weight="bold" text-anchor="middle" fill="#000">-80</text>
<text x="460.12" y="167.2" font-size="10.3" font-weight="bold" text-anchor="middle" fill="#000">-60</text>
<text x="483.28" y="167.2" font-size="10.3" font-weight="bold" text-anchor="middle" fill="#000">-40</text>
<text x="506.44" y="167.2" font-size="10.3" font-weight="bold" text-anchor="middle" fill="#000">-20</text>
<text x="529.6" y="167.2" font-size="10.3" font-weight="bold" text-anchor="middle" fill="#000">0</text>
<text x="453.2" y="182.3" font-size="11" font-weight="bold">V<tspan font-size="7" dy="3.5">D</tspan><tspan dy="-3.5" dx="1"> (V)</tspan></text>
<text x="386.4" y="108.2" font-size="11" font-weight="bold" textLength="33.5" lengthAdjust="spacingAndGlyphs" transform="rotate(-90 386.4 108.2)">I<tspan font-size="7" dy="3.5">D</tspan><tspan dy="-3.5" dx="1"> (μA)</tspan></text>
<path d="M592.8 45.94 L595.11 46.08 L597.43 46.23 L599.74 46.39 L602.06 46.56 L604.37 46.75 L606.68 46.95 L609 47.17 L611.31 47.41 L613.63 47.67 L615.94 47.96 L618.25 48.27 L620.57 48.62 L622.88 48.99 L625.2 49.4 L627.51 49.86 L629.82 50.35 L632.14 50.9 L634.45 51.51 L636.77 52.18 L639.08 52.93 L641.39 53.75 L643.71 54.67 L646.02 55.68 L648.34 56.81 L650.65 58.06 L652.96 59.46 L655.28 61 L657.59 62.72 L659.91 64.63 L662.22 66.75 L664.53 69.08 L666.85 71.65 L669.16 74.48 L671.48 77.57 L673.79 80.93 L676.1 84.57 L678.42 88.49 L680.73 92.67 L683.05 97.11 L685.36 101.78 L687.67 106.67 L689.99 111.74 L692.3 116.96 L694.62 122.31 L696.93 127.76 L699.24 133.27 L701.56 138.83 L703.87 144.41 L706.19 150 L708.5 155.6" fill="none" stroke="#8e1519" stroke-width="2.0" stroke-linejoin="round"/>
<path d="M592.8 71.23 L595.11 71.33 L597.43 71.45 L599.74 71.57 L602.06 71.7 L604.37 71.85 L606.68 72.01 L609 72.18 L611.31 72.36 L613.63 72.56 L615.94 72.78 L618.25 73.02 L620.57 73.29 L622.88 73.58 L625.2 73.89 L627.51 74.24 L629.82 74.62 L632.14 75.05 L634.45 75.52 L636.77 76.03 L639.08 76.6 L641.39 77.24 L643.71 77.94 L646.02 78.72 L648.34 79.59 L650.65 80.55 L652.96 81.63 L655.28 82.82 L657.59 84.14 L659.91 85.61 L662.22 87.24 L664.53 89.03 L666.85 91.01 L669.16 93.19 L671.48 95.56 L673.79 98.15 L676.1 100.95 L678.42 103.96 L680.73 107.18 L683.05 110.6 L685.36 114.19 L687.67 117.95 L689.99 121.85 L692.3 125.87 L694.62 129.99 L696.93 134.18 L699.24 138.42 L701.56 142.69 L703.87 146.99 L706.19 151.29 L708.5 155.6" fill="none" stroke="#8e1519" stroke-width="2.0" stroke-linejoin="round"/>
<path d="M592.8 101.72 L595.11 101.77 L597.43 101.83 L599.74 101.89 L602.06 101.96 L604.37 102.03 L606.68 102.11 L609 102.2 L611.31 102.29 L613.63 102.39 L615.94 102.5 L618.25 102.63 L620.57 102.76 L622.88 102.91 L625.2 103.08 L627.51 103.26 L629.82 103.46 L632.14 103.68 L634.45 103.92 L636.77 104.19 L639.08 104.5 L641.39 104.83 L643.71 105.21 L646.02 105.63 L648.34 106.1 L650.65 106.63 L652.96 107.22 L655.28 107.89 L657.59 108.63 L659.91 109.46 L662.22 110.4 L664.53 111.45 L666.85 112.62 L669.16 113.92 L671.48 115.36 L673.79 116.95 L676.1 118.7 L678.42 120.61 L680.73 122.68 L683.05 124.91 L685.36 127.28 L687.67 129.78 L689.99 132.41 L692.3 135.13 L694.62 137.94 L696.93 140.82 L699.24 143.74 L701.56 146.68 L703.87 149.65 L706.19 152.62 L708.5 155.6" fill="none" stroke="#8e1519" stroke-width="2.0" stroke-linejoin="round"/>
<path d="M592.8 130.55 L595.11 130.56 L597.43 130.57 L599.74 130.58 L602.06 130.6 L604.37 130.61 L606.68 130.63 L609 130.64 L611.31 130.66 L613.63 130.68 L615.94 130.7 L618.25 130.73 L620.57 130.76 L622.88 130.79 L625.2 130.82 L627.51 130.86 L629.82 130.9 L632.14 130.94 L634.45 131 L636.77 131.05 L639.08 131.12 L641.39 131.19 L643.71 131.28 L646.02 131.37 L648.34 131.48 L650.65 131.61 L652.96 131.75 L655.28 131.91 L657.59 132.1 L659.91 132.32 L662.22 132.58 L664.53 132.88 L666.85 133.22 L669.16 133.63 L671.48 134.1 L673.79 134.65 L676.1 135.3 L678.42 136.05 L680.73 136.91 L683.05 137.9 L685.36 139.01 L687.67 140.27 L689.99 141.65 L692.3 143.16 L694.62 144.78 L696.93 146.48 L699.24 148.24 L701.56 150.06 L703.87 151.9 L706.19 153.75 L708.5 155.6" fill="none" stroke="#8e1519" stroke-width="2.0" stroke-linejoin="round"/>
<path d="M592.8 148.51 L595.11 148.51 L597.43 148.51 L599.74 148.51 L602.06 148.51 L604.37 148.52 L606.68 148.52 L609 148.52 L611.31 148.52 L613.63 148.52 L615.94 148.52 L618.25 148.53 L620.57 148.53 L622.88 148.53 L625.2 148.53 L627.51 148.54 L629.82 148.54 L632.14 148.54 L634.45 148.55 L636.77 148.55 L639.08 148.56 L641.39 148.57 L643.71 148.57 L646.02 148.58 L648.34 148.59 L650.65 148.6 L652.96 148.62 L655.28 148.63 L657.59 148.65 L659.91 148.67 L662.22 148.7 L664.53 148.73 L666.85 148.77 L669.16 148.82 L671.48 148.87 L673.79 148.94 L676.1 149.03 L678.42 149.14 L680.73 149.28 L683.05 149.46 L685.36 149.68 L687.67 149.96 L689.99 150.31 L692.3 150.74 L694.62 151.26 L696.93 151.86 L699.24 152.53 L701.56 153.26 L703.87 154.03 L706.19 154.81 L708.5 155.6" fill="none" stroke="#8e1519" stroke-width="2.0" stroke-linejoin="round"/>
<path d="M592.8 155.13 L595.11 155.13 L597.43 155.13 L599.74 155.13 L602.06 155.13 L604.37 155.13 L606.68 155.13 L609 155.13 L611.31 155.13 L613.63 155.13 L615.94 155.13 L618.25 155.13 L620.57 155.13 L622.88 155.13 L625.2 155.13 L627.51 155.13 L629.82 155.13 L632.14 155.13 L634.45 155.13 L636.77 155.13 L639.08 155.13 L641.39 155.13 L643.71 155.13 L646.02 155.13 L648.34 155.13 L650.65 155.13 L652.96 155.13 L655.28 155.13 L657.59 155.13 L659.91 155.13 L662.22 155.13 L664.53 155.13 L666.85 155.13 L669.16 155.13 L671.48 155.14 L673.79 155.14 L676.1 155.14 L678.42 155.14 L680.73 155.15 L683.05 155.15 L685.36 155.16 L687.67 155.17 L689.99 155.18 L692.3 155.2 L694.62 155.22 L696.93 155.26 L699.24 155.31 L701.56 155.37 L703.87 155.44 L706.19 155.52 L708.5 155.6" fill="none" stroke="#8e1519" stroke-width="2.0" stroke-linejoin="round"/>
<rect x="592.8" y="13.8" width="115.7" height="141.8" fill="none" stroke="#000" stroke-width="2.0"/>
<line x1="592.8" y1="13.8" x2="592.8" y2="17" stroke="#000" stroke-width="1.5" stroke-linecap="butt"/>
<line x1="604.37" y1="13.8" x2="604.37" y2="17" stroke="#000" stroke-width="1.5" stroke-linecap="butt"/>
<line x1="615.94" y1="13.8" x2="615.94" y2="17" stroke="#000" stroke-width="1.5" stroke-linecap="butt"/>
<line x1="627.51" y1="13.8" x2="627.51" y2="17" stroke="#000" stroke-width="1.5" stroke-linecap="butt"/>
<line x1="639.08" y1="13.8" x2="639.08" y2="17" stroke="#000" stroke-width="1.5" stroke-linecap="butt"/>
<line x1="650.65" y1="13.8" x2="650.65" y2="17" stroke="#000" stroke-width="1.5" stroke-linecap="butt"/>
<line x1="662.22" y1="13.8" x2="662.22" y2="17" stroke="#000" stroke-width="1.5" stroke-linecap="butt"/>
<line x1="673.79" y1="13.8" x2="673.79" y2="17" stroke="#000" stroke-width="1.5" stroke-linecap="butt"/>
<line x1="685.36" y1="13.8" x2="685.36" y2="17" stroke="#000" stroke-width="1.5" stroke-linecap="butt"/>
<line x1="696.93" y1="13.8" x2="696.93" y2="17" stroke="#000" stroke-width="1.5" stroke-linecap="butt"/>
<line x1="708.5" y1="13.8" x2="708.5" y2="17" stroke="#000" stroke-width="1.5" stroke-linecap="butt"/>
<line x1="592.8" y1="155.6" x2="592.8" y2="158.8" stroke="#000" stroke-width="1.5" stroke-linecap="butt"/>
<line x1="604.37" y1="155.6" x2="604.37" y2="158.8" stroke="#000" stroke-width="1.5" stroke-linecap="butt"/>
<line x1="615.94" y1="155.6" x2="615.94" y2="158.8" stroke="#000" stroke-width="1.5" stroke-linecap="butt"/>
<line x1="627.51" y1="155.6" x2="627.51" y2="158.8" stroke="#000" stroke-width="1.5" stroke-linecap="butt"/>
<line x1="639.08" y1="155.6" x2="639.08" y2="158.8" stroke="#000" stroke-width="1.5" stroke-linecap="butt"/>
<line x1="650.65" y1="155.6" x2="650.65" y2="158.8" stroke="#000" stroke-width="1.5" stroke-linecap="butt"/>
<line x1="662.22" y1="155.6" x2="662.22" y2="158.8" stroke="#000" stroke-width="1.5" stroke-linecap="butt"/>
<line x1="673.79" y1="155.6" x2="673.79" y2="158.8" stroke="#000" stroke-width="1.5" stroke-linecap="butt"/>
<line x1="685.36" y1="155.6" x2="685.36" y2="158.8" stroke="#000" stroke-width="1.5" stroke-linecap="butt"/>
<line x1="696.93" y1="155.6" x2="696.93" y2="158.8" stroke="#000" stroke-width="1.5" stroke-linecap="butt"/>
<line x1="708.5" y1="155.6" x2="708.5" y2="158.8" stroke="#000" stroke-width="1.5" stroke-linecap="butt"/>
<line x1="589.6" y1="155.6" x2="592.8" y2="155.6" stroke="#000" stroke-width="1.5" stroke-linecap="butt"/>
<line x1="705.3" y1="155.6" x2="708.5" y2="155.6" stroke="#000" stroke-width="1.5" stroke-linecap="butt"/>
<line x1="589.6" y1="143.78" x2="592.8" y2="143.78" stroke="#000" stroke-width="1.5" stroke-linecap="butt"/>
<line x1="705.3" y1="143.78" x2="708.5" y2="143.78" stroke="#000" stroke-width="1.5" stroke-linecap="butt"/>
<line x1="589.6" y1="131.97" x2="592.8" y2="131.97" stroke="#000" stroke-width="1.5" stroke-linecap="butt"/>
<line x1="705.3" y1="131.97" x2="708.5" y2="131.97" stroke="#000" stroke-width="1.5" stroke-linecap="butt"/>
<line x1="589.6" y1="120.15" x2="592.8" y2="120.15" stroke="#000" stroke-width="1.5" stroke-linecap="butt"/>
<line x1="705.3" y1="120.15" x2="708.5" y2="120.15" stroke="#000" stroke-width="1.5" stroke-linecap="butt"/>
<line x1="589.6" y1="108.33" x2="592.8" y2="108.33" stroke="#000" stroke-width="1.5" stroke-linecap="butt"/>
<line x1="705.3" y1="108.33" x2="708.5" y2="108.33" stroke="#000" stroke-width="1.5" stroke-linecap="butt"/>
<line x1="589.6" y1="96.52" x2="592.8" y2="96.52" stroke="#000" stroke-width="1.5" stroke-linecap="butt"/>
<line x1="705.3" y1="96.52" x2="708.5" y2="96.52" stroke="#000" stroke-width="1.5" stroke-linecap="butt"/>
<line x1="589.6" y1="84.7" x2="592.8" y2="84.7" stroke="#000" stroke-width="1.5" stroke-linecap="butt"/>
<line x1="705.3" y1="84.7" x2="708.5" y2="84.7" stroke="#000" stroke-width="1.5" stroke-linecap="butt"/>
<line x1="589.6" y1="72.88" x2="592.8" y2="72.88" stroke="#000" stroke-width="1.5" stroke-linecap="butt"/>
<line x1="705.3" y1="72.88" x2="708.5" y2="72.88" stroke="#000" stroke-width="1.5" stroke-linecap="butt"/>
<line x1="589.6" y1="61.07" x2="592.8" y2="61.07" stroke="#000" stroke-width="1.5" stroke-linecap="butt"/>
<line x1="705.3" y1="61.07" x2="708.5" y2="61.07" stroke="#000" stroke-width="1.5" stroke-linecap="butt"/>
<line x1="589.6" y1="49.25" x2="592.8" y2="49.25" stroke="#000" stroke-width="1.5" stroke-linecap="butt"/>
<line x1="705.3" y1="49.25" x2="708.5" y2="49.25" stroke="#000" stroke-width="1.5" stroke-linecap="butt"/>
<line x1="589.6" y1="37.43" x2="592.8" y2="37.43" stroke="#000" stroke-width="1.5" stroke-linecap="butt"/>
<line x1="705.3" y1="37.43" x2="708.5" y2="37.43" stroke="#000" stroke-width="1.5" stroke-linecap="butt"/>
<line x1="589.6" y1="25.62" x2="592.8" y2="25.62" stroke="#000" stroke-width="1.5" stroke-linecap="butt"/>
<line x1="705.3" y1="25.62" x2="708.5" y2="25.62" stroke="#000" stroke-width="1.5" stroke-linecap="butt"/>
<line x1="589.6" y1="13.8" x2="592.8" y2="13.8" stroke="#000" stroke-width="1.5" stroke-linecap="butt"/>
<line x1="705.3" y1="13.8" x2="708.5" y2="13.8" stroke="#000" stroke-width="1.5" stroke-linecap="butt"/>
<text x="589.2" y="159.2" font-size="10.3" font-weight="bold" text-anchor="end" fill="#000">0</text>
<text x="589.2" y="135.57" font-size="10.3" font-weight="bold" text-anchor="end" fill="#000">-5</text>
<text x="589.2" y="111.93" font-size="10.3" font-weight="bold" text-anchor="end" fill="#000">-10</text>
<text x="589.2" y="88.3" font-size="10.3" font-weight="bold" text-anchor="end" fill="#000">-15</text>
<text x="589.2" y="64.67" font-size="10.3" font-weight="bold" text-anchor="end" fill="#000">-20</text>
<text x="589.2" y="41.03" font-size="10.3" font-weight="bold" text-anchor="end" fill="#000">-25</text>
<text x="589.2" y="17.4" font-size="10.3" font-weight="bold" text-anchor="end" fill="#000">-30</text>
<text x="592.8" y="167.2" font-size="10.3" font-weight="bold" text-anchor="middle" fill="#000">-100</text>
<text x="615.94" y="167.2" font-size="10.3" font-weight="bold" text-anchor="middle" fill="#000">-80</text>
<text x="639.08" y="167.2" font-size="10.3" font-weight="bold" text-anchor="middle" fill="#000">-60</text>
<text x="662.22" y="167.2" font-size="10.3" font-weight="bold" text-anchor="middle" fill="#000">-40</text>
<text x="685.36" y="167.2" font-size="10.3" font-weight="bold" text-anchor="middle" fill="#000">-20</text>
<text x="708.5" y="167.2" font-size="10.3" font-weight="bold" text-anchor="middle" fill="#000">0</text>
<text x="632.15" y="182.3" font-size="11" font-weight="bold">V<tspan font-size="7" dy="3.5">D</tspan><tspan dy="-3.5" dx="1"> (V)</tspan></text>
<text x="564.9" y="108.6" font-size="11" font-weight="bold" textLength="33.5" lengthAdjust="spacingAndGlyphs" transform="rotate(-90 564.9 108.6)">I<tspan font-size="7" dy="3.5">D</tspan><tspan dy="-3.5" dx="1"> (μA)</tspan></text>
<text x="7.8" y="27.2" font-size="18.3" font-weight="bold" textLength="23" lengthAdjust="spacingAndGlyphs" fill="#000" stroke="#000" stroke-width="0.7">(a)</text>
<text x="187.6" y="27.2" font-size="18.3" font-weight="bold" textLength="23.5" lengthAdjust="spacingAndGlyphs" fill="#000" stroke="#000" stroke-width="0.7">(b)</text>
<text x="367.3" y="27.2" font-size="18.3" font-weight="bold" textLength="20.8" lengthAdjust="spacingAndGlyphs" fill="#000" stroke="#000" stroke-width="0.7">(c)</text>
<text x="548.6" y="27.2" font-size="18.3" font-weight="bold" textLength="23.4" lengthAdjust="spacingAndGlyphs" fill="#000" stroke="#000" stroke-width="0.7">(d)</text>
<text x="7.6" y="202.1" font-size="19.2" font-weight="bold" textLength="23" lengthAdjust="spacingAndGlyphs" fill="#000" stroke="#000" stroke-width="0.7">(e)</text>
<text x="187.2" y="202.1" font-size="19.2" font-weight="bold" textLength="19" lengthAdjust="spacingAndGlyphs" fill="#000" stroke="#000" stroke-width="0.7">(f)</text>
<text x="368.6" y="202.1" font-size="19.2" font-weight="bold" textLength="21.8" lengthAdjust="spacingAndGlyphs" fill="#000" stroke="#000" stroke-width="0.7">(g)</text>
<text x="548.6" y="202.1" font-size="19.2" font-weight="bold" textLength="22.7" lengthAdjust="spacingAndGlyphs" fill="#000" stroke="#000" stroke-width="0.7">(h)</text>
<text x="58.3" y="28.7" font-size="10.4" font-weight="bold" textLength="94.7" lengthAdjust="spacingAndGlyphs" fill="#000">P3HT (BA dipping)</text>
<text x="238.5" y="28.7" font-size="10.4" font-weight="bold" textLength="108" lengthAdjust="spacingAndGlyphs" fill="#000">P3HT:PCBM (etched)</text>
<text x="419" y="29.2" font-size="10.4" font-weight="bold" textLength="102" lengthAdjust="spacingAndGlyphs" fill="#000">P3HT:PCBM w/ DIO</text>
<text x="595.3" y="29.2" font-size="10.4" font-weight="bold" textLength="103.7" lengthAdjust="spacingAndGlyphs" fill="#000">P3HT:PCBM w/ DIO</text>
<text x="595.3" y="44.5" font-size="10.4" font-weight="bold" textLength="42.7" lengthAdjust="spacingAndGlyphs" fill="#000">(etched)</text>
<text x="62.5" y="118.9" font-size="10" font-weight="bold" textLength="58.3" lengthAdjust="spacingAndGlyphs">V<tspan font-size="7" dy="3">g</tspan><tspan dy="-3"> = −100 V</tspan></text>
<text x="62.5" y="133.9" font-size="10" font-weight="bold" textLength="28.3" lengthAdjust="spacingAndGlyphs" fill="#000">−80 V</text>
<text x="62.5" y="143.9" font-size="10" font-weight="bold" textLength="28.3" lengthAdjust="spacingAndGlyphs" fill="#000">−60 V</text>
<text x="62.5" y="153.1" font-size="10" font-weight="bold" textLength="85.8" lengthAdjust="spacingAndGlyphs" fill="#000">−40 V, −20 V, 0 V</text>
<text x="242.7" y="102.2" font-size="10" font-weight="bold" textLength="58.2" lengthAdjust="spacingAndGlyphs">V<tspan font-size="7" dy="3">g</tspan><tspan dy="-3"> = −100 V</tspan></text>
<text x="242.7" y="122.7" font-size="10" font-weight="bold" textLength="29.3" lengthAdjust="spacingAndGlyphs" fill="#000">−80 V</text>
<text x="242.7" y="139.1" font-size="10" font-weight="bold" textLength="29.3" lengthAdjust="spacingAndGlyphs" fill="#000">−60 V</text>
<text x="242.7" y="148.8" font-size="10" font-weight="bold" textLength="29.3" lengthAdjust="spacingAndGlyphs" fill="#000">−40 V</text>
<text x="273.8" y="154" font-size="10" font-weight="bold" textLength="50.4" lengthAdjust="spacingAndGlyphs" fill="#000">−20 V, 0 V</text>
<text x="465" y="46.2" font-size="10" font-weight="bold" textLength="57" lengthAdjust="spacingAndGlyphs">V<tspan font-size="7" dy="3">g</tspan><tspan dy="-3"> = −100 V</tspan></text>
<text x="421.8" y="67.6" font-size="10" font-weight="bold" textLength="28.8" lengthAdjust="spacingAndGlyphs" fill="#000">−80 V</text>
<text x="421.8" y="99.1" font-size="10" font-weight="bold" textLength="28.8" lengthAdjust="spacingAndGlyphs" fill="#000">−60 V</text>
<text x="421.8" y="128.4" font-size="10" font-weight="bold" textLength="28.8" lengthAdjust="spacingAndGlyphs" fill="#000">−40 V</text>
<text x="421.8" y="145.1" font-size="10" font-weight="bold" textLength="28.8" lengthAdjust="spacingAndGlyphs" fill="#000">−20 V</text>
<text x="431.4" y="155.8" font-size="10" font-weight="bold" textLength="14.9" lengthAdjust="spacingAndGlyphs" fill="#000">0 V</text>
<text x="645" y="56.9" font-size="10" font-weight="bold" textLength="57" lengthAdjust="spacingAndGlyphs">V<tspan font-size="7" dy="3">g</tspan><tspan dy="-3"> = −100 V</tspan></text>
<text x="600.3" y="70.8" font-size="10" font-weight="bold" textLength="29.2" lengthAdjust="spacingAndGlyphs" fill="#000">−80 V</text>
<text x="600.3" y="100.6" font-size="10" font-weight="bold" textLength="29.2" lengthAdjust="spacingAndGlyphs" fill="#000">−60 V</text>
<text x="600.3" y="128.6" font-size="10" font-weight="bold" textLength="29.2" lengthAdjust="spacingAndGlyphs" fill="#000">−40 V</text>
<text x="600.3" y="145.1" font-size="10" font-weight="bold" textLength="29.2" lengthAdjust="spacingAndGlyphs" fill="#000">−20 V</text>
<text x="611.4" y="155.8" font-size="10" font-weight="bold" textLength="14.9" lengthAdjust="spacingAndGlyphs" fill="#000">0 V</text>
<rect x="53.8" y="193" width="115.5" height="141.6" fill="none" stroke="#000" stroke-width="2.0"/>
<line x1="53.8" y1="334.6" x2="53.8" y2="337.8" stroke="#000" stroke-width="1.5" stroke-linecap="butt"/>
<line x1="73.05" y1="334.6" x2="73.05" y2="337.8" stroke="#000" stroke-width="1.5" stroke-linecap="butt"/>
<line x1="92.3" y1="334.6" x2="92.3" y2="337.8" stroke="#000" stroke-width="1.5" stroke-linecap="butt"/>
<line x1="111.55" y1="334.6" x2="111.55" y2="337.8" stroke="#000" stroke-width="1.5" stroke-linecap="butt"/>
<line x1="130.8" y1="334.6" x2="130.8" y2="337.8" stroke="#000" stroke-width="1.5" stroke-linecap="butt"/>
<line x1="150.05" y1="334.6" x2="150.05" y2="337.8" stroke="#000" stroke-width="1.5" stroke-linecap="butt"/>
<line x1="169.3" y1="334.6" x2="169.3" y2="337.8" stroke="#000" stroke-width="1.5" stroke-linecap="butt"/>
<line x1="73.05" y1="193" x2="73.05" y2="196.2" stroke="#000" stroke-width="1.5" stroke-linecap="butt"/>
<line x1="111.55" y1="193" x2="111.55" y2="196.2" stroke="#000" stroke-width="1.5" stroke-linecap="butt"/>
<line x1="150.05" y1="193" x2="150.05" y2="196.2" stroke="#000" stroke-width="1.5" stroke-linecap="butt"/>
<line x1="50.6" y1="193" x2="53.8" y2="193" stroke="#000" stroke-width="1.5" stroke-linecap="butt"/>
<line x1="50.6" y1="221.32" x2="53.8" y2="221.32" stroke="#000" stroke-width="1.5" stroke-linecap="butt"/>
<line x1="50.6" y1="249.64" x2="53.8" y2="249.64" stroke="#000" stroke-width="1.5" stroke-linecap="butt"/>
<line x1="50.6" y1="277.96" x2="53.8" y2="277.96" stroke="#000" stroke-width="1.5" stroke-linecap="butt"/>
<line x1="50.6" y1="306.28" x2="53.8" y2="306.28" stroke="#000" stroke-width="1.5" stroke-linecap="butt"/>
<line x1="50.6" y1="334.6" x2="53.8" y2="334.6" stroke="#000" stroke-width="1.5" stroke-linecap="butt"/>
<line x1="166.1" y1="334.6" x2="169.3" y2="334.6" stroke="#000" stroke-width="1.5" stroke-linecap="butt"/>
<line x1="166.1" y1="299.2" x2="169.3" y2="299.2" stroke="#000" stroke-width="1.5" stroke-linecap="butt"/>
<line x1="166.1" y1="263.8" x2="169.3" y2="263.8" stroke="#000" stroke-width="1.5" stroke-linecap="butt"/>
<line x1="166.1" y1="228.4" x2="169.3" y2="228.4" stroke="#000" stroke-width="1.5" stroke-linecap="butt"/>
<line x1="166.1" y1="193" x2="169.3" y2="193" stroke="#000" stroke-width="1.5" stroke-linecap="butt"/>
<text x="44.5" y="197.7" font-size="10.7" font-weight="bold" text-anchor="end">10</text>
<text x="50.5" y="192.2" font-size="6.4" font-weight="bold" text-anchor="end">-4</text>
<text x="44.5" y="226.02" font-size="10.7" font-weight="bold" text-anchor="end">10</text>
<text x="50.5" y="220.52" font-size="6.4" font-weight="bold" text-anchor="end">-5</text>
<text x="44.5" y="254.34" font-size="10.7" font-weight="bold" text-anchor="end">10</text>
<text x="50.5" y="248.84" font-size="6.4" font-weight="bold" text-anchor="end">-6</text>
<text x="44.5" y="282.66" font-size="10.7" font-weight="bold" text-anchor="end">10</text>
<text x="50.5" y="277.16" font-size="6.4" font-weight="bold" text-anchor="end">-7</text>
<text x="44.5" y="310.98" font-size="10.7" font-weight="bold" text-anchor="end">10</text>
<text x="50.5" y="305.48" font-size="6.4" font-weight="bold" text-anchor="end">-8</text>
<text x="44.5" y="339.3" font-size="10.7" font-weight="bold" text-anchor="end">10</text>
<text x="50.5" y="333.8" font-size="6.4" font-weight="bold" text-anchor="end">-9</text>
<text x="73.05" y="347.3" font-size="10.6" font-weight="bold" text-anchor="middle" fill="#000">-80</text>
<text x="111.55" y="347.3" font-size="10.6" font-weight="bold" text-anchor="middle" fill="#000">-40</text>
<text x="150.05" y="347.3" font-size="10.6" font-weight="bold" text-anchor="middle" fill="#000">0</text>
<text x="171.6" y="338.5" font-size="11" font-weight="bold" fill="#000">0</text>
<text x="171.6" y="267.7" font-size="11" font-weight="bold" fill="#000">2</text>
<text x="171.6" y="196.9" font-size="11" font-weight="bold" fill="#000">4</text>
<text x="96.05" y="360.6" font-size="11" font-weight="bold">V<tspan font-size="7" dy="3.5">G</tspan><tspan dy="-3.5" dx="1"> (V)</tspan></text>
<path d="M54 277.2 L56.54 279.03 L60.13 281.61 L64.48 284.81 L69.3 288.5 L74.86 293.01 L81.21 298.28 L87.68 303.61 L93.6 308.3 L98.74 312.15 L103.46 315.54 L108.03 318.61 L112.7 321.5 L117.61 324.3 L122.61 326.91 L127.47 329.2 L132 331 L136.15 332.21 L140.02 332.93 L143.63 333.34 L147 333.6 L150.04 333.75 L152.78 333.69 L155.38 333.44 L158 333 L160.91 332.21 L163.94 331.11 L166.62 330.04 L168.5 329.3" fill="none" stroke="#000" stroke-width="2.7" stroke-linejoin="round" stroke-dasharray="9 5" stroke-dashoffset="0"/>
<path d="M54 277.8 L56.54 279.63 L60.13 282.21 L64.48 285.41 L69.3 289.1 L74.86 293.61 L81.21 298.88 L87.68 304.21 L93.6 308.9 L98.74 312.75 L103.46 316.14 L108.03 319.21 L112.7 322.1 L117.61 324.9 L122.61 327.51 L127.47 329.8 L132 331.6 L136.15 332.8 L140.02 333.51 L143.63 333.91 L147 334.2 L150.04 334.41 L152.78 334.45 L155.38 334.31 L158 334 L160.91 333.38 L163.94 332.49 L166.62 331.6 L168.5 331" fill="none" stroke="#e01212" stroke-width="2.7" stroke-linejoin="round" stroke-dasharray="9 5" stroke-dashoffset="6"/>
<path d="M54 237.5 L57.3 238.19 L62.07 239.27 L67.3 241 L72.8 243.53 L78.76 246.7 L84.7 250.3 L90.61 254.46 L96.5 259.04 L102 263.5 L106.95 267.56 L111.5 271.49 L115.7 275.5 L119.46 279.62 L122.87 283.83 L126.3 288.3 L129.96 293.14 L133.63 298.25 L137 303.5 L140.03 309.24 L142.76 315.12 L145 320 L146.53 323.6 L147.58 326.21 L148.6 327.5 L149.73 327.11 L150.83 325.4 L152 323.2 L153.4 320.42 L154.87 317.14 L156 314.4 L156.48 312.62 L156.63 311.38 L157 310.4 L157.85 309.72 L158.93 309.3 L160 308.8 L161 308.18 L162 307.47 L163 306.4 L164.01 304.85 L165.01 302.95 L166 300.8 L167.05 298.07 L168.08 295.1 L168.8 293" fill="none" stroke="#000" stroke-width="2.5" stroke-linejoin="round"/>
<path d="M54 238 L57.3 238.69 L62.07 239.76 L67.3 241.5 L72.8 244.04 L78.76 247.26 L84.7 251 L91 255.78 L97.3 261.1 L102 265.3 L103.77 267.24 L103.96 268.06 L105 269.6 L108 272.58 L111.86 276.27 L115.7 280.3 L119.24 284.52 L122.76 289.08 L126.3 294 L129.96 299.54 L133.63 305.45 L137 311 L139.98 316.17 L142.66 320.99 L145 324.8 L146.89 327.36 L148.44 328.93 L150 329.6 L151.67 329.13 L153.33 327.76 L155 326.4 L156.74 325.33 L158.48 324.27 L160 323.2 L161.19 322.07 L162.15 320.95 L163 320 L163.74 319.56 L164.37 319.29 L165 318.4 L165.67 316.41 L166.35 313.81 L167 311.2 L167.68 308.53 L168.34 305.87 L168.8 304" fill="none" stroke="#e01212" stroke-width="2.4" stroke-linejoin="round"/>
<line x1="108" y1="272.3" x2="92.4" y2="272.3" stroke="#000" stroke-width="2.1" stroke-linecap="butt"/>
<path d="M86.4 272.3 L93.4 269.3 L91.9 272.3 L93.4 275.3 Z" fill="#000"/>
<line x1="99.3" y1="308" x2="115" y2="308" stroke="#000" stroke-width="2.1" stroke-linecap="butt"/>
<path d="M121 308 L114 311 L115.5 308 L114 305 Z" fill="#000"/>
<line x1="55" y1="204" x2="77" y2="204" stroke="#000" stroke-width="2.8" stroke-linecap="butt"/>
<line x1="55" y1="214.4" x2="77" y2="214.4" stroke="#e01212" stroke-width="2.8" stroke-linecap="butt"/>
<text x="78.8" y="207" font-size="8.8" font-weight="bold" textLength="22.8" lengthAdjust="spacingAndGlyphs" fill="#222">P3HT</text>
<text x="78.8" y="217.4" font-size="8.8" font-weight="bold" textLength="22.8" lengthAdjust="spacingAndGlyphs" fill="#222">P3HT</text>
<text x="78.8" y="229.8" font-size="8.8" font-weight="bold" textLength="63.4" lengthAdjust="spacingAndGlyphs" fill="#222">(etched by BA)</text>
<text x="29" y="285.3" font-size="10.4" font-weight="bold" textLength="33.4" lengthAdjust="spacingAndGlyphs" transform="rotate(-90 29 285.3)">|I<tspan font-size="6.6" dy="2.6">D</tspan><tspan dy="-2.6">| (A)</tspan></text>
<rect x="233.5" y="193" width="115.5" height="141.6" fill="none" stroke="#000" stroke-width="2.0"/>
<line x1="233.5" y1="334.6" x2="233.5" y2="337.8" stroke="#000" stroke-width="1.5" stroke-linecap="butt"/>
<line x1="252.75" y1="334.6" x2="252.75" y2="337.8" stroke="#000" stroke-width="1.5" stroke-linecap="butt"/>
<line x1="272" y1="334.6" x2="272" y2="337.8" stroke="#000" stroke-width="1.5" stroke-linecap="butt"/>
<line x1="291.25" y1="334.6" x2="291.25" y2="337.8" stroke="#000" stroke-width="1.5" stroke-linecap="butt"/>
<line x1="310.5" y1="334.6" x2="310.5" y2="337.8" stroke="#000" stroke-width="1.5" stroke-linecap="butt"/>
<line x1="329.75" y1="334.6" x2="329.75" y2="337.8" stroke="#000" stroke-width="1.5" stroke-linecap="butt"/>
<line x1="349" y1="334.6" x2="349" y2="337.8" stroke="#000" stroke-width="1.5" stroke-linecap="butt"/>
<line x1="252.75" y1="193" x2="252.75" y2="196.2" stroke="#000" stroke-width="1.5" stroke-linecap="butt"/>
<line x1="291.25" y1="193" x2="291.25" y2="196.2" stroke="#000" stroke-width="1.5" stroke-linecap="butt"/>
<line x1="329.75" y1="193" x2="329.75" y2="196.2" stroke="#000" stroke-width="1.5" stroke-linecap="butt"/>
<line x1="230.3" y1="193" x2="233.5" y2="193" stroke="#000" stroke-width="1.5" stroke-linecap="butt"/>
<line x1="230.3" y1="221.32" x2="233.5" y2="221.32" stroke="#000" stroke-width="1.5" stroke-linecap="butt"/>
<line x1="230.3" y1="249.64" x2="233.5" y2="249.64" stroke="#000" stroke-width="1.5" stroke-linecap="butt"/>
<line x1="230.3" y1="277.96" x2="233.5" y2="277.96" stroke="#000" stroke-width="1.5" stroke-linecap="butt"/>
<line x1="230.3" y1="306.28" x2="233.5" y2="306.28" stroke="#000" stroke-width="1.5" stroke-linecap="butt"/>
<line x1="230.3" y1="334.6" x2="233.5" y2="334.6" stroke="#000" stroke-width="1.5" stroke-linecap="butt"/>
<line x1="345.8" y1="334.6" x2="349" y2="334.6" stroke="#000" stroke-width="1.5" stroke-linecap="butt"/>
<line x1="345.8" y1="299.2" x2="349" y2="299.2" stroke="#000" stroke-width="1.5" stroke-linecap="butt"/>
<line x1="345.8" y1="263.8" x2="349" y2="263.8" stroke="#000" stroke-width="1.5" stroke-linecap="butt"/>
<line x1="345.8" y1="228.4" x2="349" y2="228.4" stroke="#000" stroke-width="1.5" stroke-linecap="butt"/>
<line x1="345.8" y1="193" x2="349" y2="193" stroke="#000" stroke-width="1.5" stroke-linecap="butt"/>
<text x="224.2" y="197.7" font-size="10.7" font-weight="bold" text-anchor="end">10</text>
<text x="230.2" y="192.2" font-size="6.4" font-weight="bold" text-anchor="end">-4</text>
<text x="224.2" y="226.02" font-size="10.7" font-weight="bold" text-anchor="end">10</text>
<text x="230.2" y="220.52" font-size="6.4" font-weight="bold" text-anchor="end">-5</text>
<text x="224.2" y="254.34" font-size="10.7" font-weight="bold" text-anchor="end">10</text>
<text x="230.2" y="248.84" font-size="6.4" font-weight="bold" text-anchor="end">-6</text>
<text x="224.2" y="282.66" font-size="10.7" font-weight="bold" text-anchor="end">10</text>
<text x="230.2" y="277.16" font-size="6.4" font-weight="bold" text-anchor="end">-7</text>
<text x="224.2" y="310.98" font-size="10.7" font-weight="bold" text-anchor="end">10</text>
<text x="230.2" y="305.48" font-size="6.4" font-weight="bold" text-anchor="end">-8</text>
<text x="224.2" y="339.3" font-size="10.7" font-weight="bold" text-anchor="end">10</text>
<text x="230.2" y="333.8" font-size="6.4" font-weight="bold" text-anchor="end">-9</text>
<text x="252.75" y="347.3" font-size="10.6" font-weight="bold" text-anchor="middle" fill="#000">-80</text>
<text x="291.25" y="347.3" font-size="10.6" font-weight="bold" text-anchor="middle" fill="#000">-40</text>
<text x="329.75" y="347.3" font-size="10.6" font-weight="bold" text-anchor="middle" fill="#000">0</text>
<text x="351.3" y="338.5" font-size="11" font-weight="bold" fill="#000">0</text>
<text x="351.3" y="267.7" font-size="11" font-weight="bold" fill="#000">2</text>
<text x="351.3" y="196.9" font-size="11" font-weight="bold" fill="#000">4</text>
<text x="275.75" y="360.6" font-size="11" font-weight="bold">V<tspan font-size="7" dy="3.5">G</tspan><tspan dy="-3.5" dx="1"> (V)</tspan></text>
<path d="M234 285.7 L235.39 286.61 L237.23 287.83 L239.41 289.27 L241.85 290.88 L244.43 292.58 L247.05 294.29 L249.61 295.96 L252 297.5 L254.26 298.95 L256.5 300.4 L258.73 301.83 L260.98 303.27 L263.25 304.7 L265.57 306.13 L267.94 307.56 L270.4 309 L272.99 310.48 L275.71 312 L278.52 313.55 L281.37 315.09 L284.19 316.59 L286.94 318.01 L289.56 319.33 L292 320.5 L294.2 321.52 L296.19 322.41 L298.03 323.2 L299.81 323.91 L301.59 324.56 L303.45 325.2 L305.46 325.84 L307.7 326.5 L310.2 327.22 L312.91 327.98 L315.77 328.74 L318.71 329.48 L321.66 330.16 L324.57 330.74 L327.37 331.2 L330 331.5 L332.58 331.6 L335.22 331.51 L337.86 331.28 L340.39 330.96 L342.76 330.61 L344.87 330.26 L346.64 329.98 L348 329.8" fill="none" stroke="#1010a8" stroke-width="2.6" stroke-linejoin="round" stroke-dasharray="11 10" stroke-dashoffset="8"/>
<path d="M234 279 L235.21 279.88 L236.78 281.03 L238.65 282.4 L240.75 283.94 L243 285.57 L245.34 287.25 L247.7 288.91 L250 290.5 L252.29 292.03 L254.67 293.56 L257.12 295.1 L259.62 296.67 L262.18 298.28 L264.77 299.95 L267.38 301.68 L270 303.5 L272.7 305.49 L275.51 307.69 L278.38 310.01 L281.27 312.36 L284.12 314.65 L286.9 316.79 L289.54 318.71 L292 320.3 L294.22 321.53 L296.21 322.46 L298.06 323.17 L299.83 323.73 L301.61 324.22 L303.46 324.71 L305.46 325.28 L307.7 326 L310.2 326.91 L312.91 327.94 L315.77 329.03 L318.71 330.14 L321.66 331.19 L324.57 332.15 L327.37 332.93 L330 333.5 L332.58 333.82 L335.22 333.93 L337.86 333.88 L340.39 333.72 L342.76 333.5 L344.87 333.28 L346.64 333.09 L348 333" fill="none" stroke="#e98e2a" stroke-width="2.6" stroke-linejoin="round" stroke-dasharray="7 4" stroke-dashoffset="0"/>
<path d="M234 241.61 L236 242.07 L238 242.58 L240 243.15 L242 243.77 L244 244.44 L246 245.17 L248 245.95 L250 246.78 L252 247.66 L254 248.59 L256 249.57 L258 250.6 L260 251.68 L262 252.8 L264 253.97 L266 255.18 L268 256.44 L270 257.74 L272 259.09 L274 260.47 L276 261.9 L278 263.37 L280 264.88 L282 266.44 L284 268.02 L286 269.65 L288 271.32 L290 273.02 L292 274.76 L294 276.53 L296 278.34 L298 280.18 L300 282.05 L302 283.96 L304 285.9 L306 287.87 L308 289.87 L310 291.89 L312 293.95 L314 296.04 L316 298.15 L318 300.29 L318 299.5 L318.62 300.06 L319.5 300.85 L320.62 301.79 L322 302.8 L323.77 303.99 L325.88 305.36 L328.05 306.65 L330 307.6 L331.64 308.16 L333.12 308.45 L334.55 308.52 L336 308.4 L337.55 308.01 L339.12 307.35 L340.64 306.62 L342 306 L343.16 305.6 L344.19 305.29 L345.12 304.94 L346 304.4 L346.89 303.5 L347.75 302.35 L348.48 301.25 L349 300.5" fill="none" stroke="#1010a8" stroke-width="2.4" stroke-linejoin="round"/>
<path d="M234 238.93 L236 239.57 L238 240.25 L240 240.97 L242 241.72 L244 242.52 L246 243.35 L248 244.22 L250 245.13 L252 246.08 L254 247.07 L256 248.1 L258 249.18 L260 250.3 L262 251.46 L264 252.66 L266 253.91 L268 255.21 L270 256.55 L272 257.94 L274 259.37 L276 260.85 L278 262.38 L280 263.95 L282 265.58 L284 267.25 L286 268.98 L288 270.75 L290 272.58 L292 274.45 L294 276.38 L296 278.36 L298 280.4 L300 282.49 L302 284.63 L304 286.83 L306 289.08 L308 291.39 L310 293.76 L312 296.18 L314 298.66 L316 301.2 L316 301.2 L316.67 302.06 L317.62 303.3 L318.77 304.69 L320 306 L321.36 307.22 L322.88 308.45 L324.45 309.66 L326 310.8 L327.45 311.89 L328.88 312.95 L330.36 313.93 L332 314.8 L333.93 315.57 L336.06 316.25 L338.16 316.81 L340 317.2 L341.51 317.5 L342.81 317.7 L343.96 317.65 L345 317.2 L345.94 316.11 L346.75 314.53 L347.44 312.89 L348 311.6 L348.41 310.78 L348.69 310.2 L348.87 309.8 L349 309.5" fill="none" stroke="#e98e2a" stroke-width="2.4" stroke-linejoin="round"/>
<line x1="280.3" y1="264" x2="263.7" y2="264" stroke="#000" stroke-width="2.1" stroke-linecap="butt"/>
<path d="M257.7 264 L264.7 261 L263.2 264 L264.7 267 Z" fill="#000"/>
<line x1="268" y1="301.5" x2="284.7" y2="301.5" stroke="#000" stroke-width="2.1" stroke-linecap="butt"/>
<path d="M290.7 301.5 L283.7 304.5 L285.2 301.5 L283.7 298.5 Z" fill="#000"/>
<line x1="235.8" y1="203.5" x2="257.7" y2="203.5" stroke="#1010a8" stroke-width="2.8" stroke-linecap="butt"/>
<line x1="235.8" y1="214.7" x2="257.7" y2="214.7" stroke="#e98e2a" stroke-width="2.8" stroke-linecap="butt"/>
<text x="259.4" y="206.6" font-size="8.8" font-weight="bold" textLength="60.8" lengthAdjust="spacingAndGlyphs" fill="#222">Blend w/o DIO</text>
<text x="259.4" y="217.7" font-size="8.8" font-weight="bold" textLength="60.8" lengthAdjust="spacingAndGlyphs" fill="#222">Blend w/o DIO</text>
<text x="259.4" y="229.4" font-size="8.8" font-weight="bold" textLength="34.6" lengthAdjust="spacingAndGlyphs" fill="#222">(etched)</text>
<text x="191.5" y="306.3" font-size="11" font-weight="bold" textLength="73.4" lengthAdjust="spacingAndGlyphs" transform="rotate(-90 191.5 306.3)">|I<tspan font-size="7" dy="3">D</tspan><tspan dy="-3">|</tspan><tspan font-size="7" dy="-5.5">0.5</tspan><tspan dy="5.5"> (10</tspan><tspan font-size="7" dy="-5.5">-3</tspan><tspan dy="5.5"> A</tspan><tspan font-size="7" dy="-5.5">0.5</tspan><tspan dy="5.5">)</tspan></text>
<text x="209.3" y="284.3" font-size="10.4" font-weight="bold" textLength="33.4" lengthAdjust="spacingAndGlyphs" transform="rotate(-90 209.3 284.3)">|I<tspan font-size="6.6" dy="2.6">D</tspan><tspan dy="-2.6">| (A)</tspan></text>
<rect x="413.1" y="193" width="115.5" height="141.6" fill="none" stroke="#000" stroke-width="2.0"/>
<line x1="413.1" y1="334.6" x2="413.1" y2="337.8" stroke="#000" stroke-width="1.5" stroke-linecap="butt"/>
<line x1="432.35" y1="334.6" x2="432.35" y2="337.8" stroke="#000" stroke-width="1.5" stroke-linecap="butt"/>
<line x1="451.6" y1="334.6" x2="451.6" y2="337.8" stroke="#000" stroke-width="1.5" stroke-linecap="butt"/>
<line x1="470.85" y1="334.6" x2="470.85" y2="337.8" stroke="#000" stroke-width="1.5" stroke-linecap="butt"/>
<line x1="490.1" y1="334.6" x2="490.1" y2="337.8" stroke="#000" stroke-width="1.5" stroke-linecap="butt"/>
<line x1="509.35" y1="334.6" x2="509.35" y2="337.8" stroke="#000" stroke-width="1.5" stroke-linecap="butt"/>
<line x1="528.6" y1="334.6" x2="528.6" y2="337.8" stroke="#000" stroke-width="1.5" stroke-linecap="butt"/>
<line x1="432.35" y1="193" x2="432.35" y2="196.2" stroke="#000" stroke-width="1.5" stroke-linecap="butt"/>
<line x1="470.85" y1="193" x2="470.85" y2="196.2" stroke="#000" stroke-width="1.5" stroke-linecap="butt"/>
<line x1="509.35" y1="193" x2="509.35" y2="196.2" stroke="#000" stroke-width="1.5" stroke-linecap="butt"/>
<line x1="409.9" y1="193" x2="413.1" y2="193" stroke="#000" stroke-width="1.5" stroke-linecap="butt"/>
<line x1="409.9" y1="221.32" x2="413.1" y2="221.32" stroke="#000" stroke-width="1.5" stroke-linecap="butt"/>
<line x1="409.9" y1="249.64" x2="413.1" y2="249.64" stroke="#000" stroke-width="1.5" stroke-linecap="butt"/>
<line x1="409.9" y1="277.96" x2="413.1" y2="277.96" stroke="#000" stroke-width="1.5" stroke-linecap="butt"/>
<line x1="409.9" y1="306.28" x2="413.1" y2="306.28" stroke="#000" stroke-width="1.5" stroke-linecap="butt"/>
<line x1="409.9" y1="334.6" x2="413.1" y2="334.6" stroke="#000" stroke-width="1.5" stroke-linecap="butt"/>
<line x1="525.4" y1="334.6" x2="528.6" y2="334.6" stroke="#000" stroke-width="1.5" stroke-linecap="butt"/>
<line x1="525.4" y1="316.9" x2="528.6" y2="316.9" stroke="#000" stroke-width="1.5" stroke-linecap="butt"/>
<line x1="525.4" y1="299.2" x2="528.6" y2="299.2" stroke="#000" stroke-width="1.5" stroke-linecap="butt"/>
<line x1="525.4" y1="281.5" x2="528.6" y2="281.5" stroke="#000" stroke-width="1.5" stroke-linecap="butt"/>
<line x1="525.4" y1="263.8" x2="528.6" y2="263.8" stroke="#000" stroke-width="1.5" stroke-linecap="butt"/>
<line x1="525.4" y1="246.1" x2="528.6" y2="246.1" stroke="#000" stroke-width="1.5" stroke-linecap="butt"/>
<line x1="525.4" y1="228.4" x2="528.6" y2="228.4" stroke="#000" stroke-width="1.5" stroke-linecap="butt"/>
<line x1="525.4" y1="210.7" x2="528.6" y2="210.7" stroke="#000" stroke-width="1.5" stroke-linecap="butt"/>
<line x1="525.4" y1="193" x2="528.6" y2="193" stroke="#000" stroke-width="1.5" stroke-linecap="butt"/>
<text x="403.8" y="197.7" font-size="10.7" font-weight="bold" text-anchor="end">10</text>
<text x="409.8" y="192.2" font-size="6.4" font-weight="bold" text-anchor="end">-4</text>
<text x="403.8" y="226.02" font-size="10.7" font-weight="bold" text-anchor="end">10</text>
<text x="409.8" y="220.52" font-size="6.4" font-weight="bold" text-anchor="end">-5</text>
<text x="403.8" y="254.34" font-size="10.7" font-weight="bold" text-anchor="end">10</text>
<text x="409.8" y="248.84" font-size="6.4" font-weight="bold" text-anchor="end">-6</text>
<text x="403.8" y="282.66" font-size="10.7" font-weight="bold" text-anchor="end">10</text>
<text x="409.8" y="277.16" font-size="6.4" font-weight="bold" text-anchor="end">-7</text>
<text x="403.8" y="310.98" font-size="10.7" font-weight="bold" text-anchor="end">10</text>
<text x="409.8" y="305.48" font-size="6.4" font-weight="bold" text-anchor="end">-8</text>
<text x="403.8" y="339.3" font-size="10.7" font-weight="bold" text-anchor="end">10</text>
<text x="409.8" y="333.8" font-size="6.4" font-weight="bold" text-anchor="end">-9</text>
<text x="432.35" y="347.3" font-size="10.6" font-weight="bold" text-anchor="middle" fill="#000">-80</text>
<text x="470.85" y="347.3" font-size="10.6" font-weight="bold" text-anchor="middle" fill="#000">-40</text>
<text x="509.35" y="347.3" font-size="10.6" font-weight="bold" text-anchor="middle" fill="#000">0</text>
<text x="530.9" y="338.5" font-size="11" font-weight="bold" fill="#000">0</text>
<text x="530.9" y="303.1" font-size="11" font-weight="bold" fill="#000">2</text>
<text x="530.9" y="267.7" font-size="11" font-weight="bold" fill="#000">4</text>
<text x="530.9" y="232.3" font-size="11" font-weight="bold" fill="#000">6</text>
<text x="530.9" y="196.9" font-size="11" font-weight="bold" fill="#000">8</text>
<text x="455.35" y="360.6" font-size="11" font-weight="bold">V<tspan font-size="7" dy="3.5">G</tspan><tspan dy="-3.5" dx="1"> (V)</tspan></text>
<path d="M413.5 213 L415.3 215.45 L417.68 218.68 L420.51 222.52 L423.66 226.81 L427.02 231.37 L430.44 236.04 L433.81 240.64 L437 245 L440.14 249.33 L443.4 253.89 L446.73 258.56 L450.07 263.25 L453.36 267.84 L456.55 272.23 L459.59 276.32 L462.4 280 L464.96 283.23 L467.29 286.09 L469.47 288.67 L471.54 291.04 L473.57 293.28 L475.61 295.46 L477.74 297.68 L480 300 L482.45 302.45 L485.07 304.96 L487.76 307.47 L490.48 309.95 L493.13 312.33 L495.65 314.57 L497.96 316.61 L500 318.4 L501.73 319.92 L503.2 321.21 L504.48 322.3 L505.62 323.25 L506.69 324.09 L507.73 324.87 L508.82 325.62 L510 326.4 L511.28 327.18 L512.62 327.91 L513.97 328.59 L515.31 329.22 L516.62 329.8 L517.85 330.33 L518.99 330.79 L520 331.2 L520.88 331.55 L521.64 331.84 L522.32 332.07 L522.93 332.25 L523.48 332.37 L523.99 332.44 L524.5 332.45 L525 332.4 L525.51 332.26 L526 332 L526.47 331.66 L526.91 331.27 L527.31 330.88 L527.67 330.52 L527.97 330.21 L528.2 330" fill="none" stroke="#a9a9a9" stroke-width="2.7" stroke-linejoin="round"/>
<path d="M413.5 213 L415.3 215.45 L417.68 218.68 L420.51 222.52 L423.66 226.81 L427.02 231.37 L430.44 236.04 L433.81 240.64 L437 245 L440.14 249.33 L443.4 253.89 L446.73 258.56 L450.07 263.25 L453.36 267.84 L456.55 272.23 L459.59 276.32 L462.4 280 L464.96 283.23 L467.29 286.09 L469.47 288.67 L471.54 291.04 L473.57 293.28 L475.61 295.46 L477.74 297.68 L480 300 L482.45 302.45 L485.07 304.96 L487.76 307.47 L490.48 309.95 L493.13 312.33 L495.65 314.57 L497.96 316.61 L500 318.4 L501.73 319.92 L503.2 321.21 L504.48 322.3 L505.62 323.25 L506.69 324.09 L507.73 324.87 L508.82 325.62 L510 326.4 L511.28 327.18 L512.62 327.91 L513.97 328.59 L515.31 329.22 L516.62 329.8 L517.85 330.33 L518.99 330.79 L520 331.2 L520.88 331.55 L521.64 331.84 L522.32 332.07 L522.93 332.25 L523.48 332.37 L523.99 332.44 L524.5 332.45 L525 332.4 L525.51 332.26 L526 332 L526.47 331.66 L526.91 331.27 L527.31 330.88 L527.67 330.52 L527.97 330.21 L528.2 330" fill="none" stroke="#8e1519" stroke-width="2.7" stroke-linejoin="round" stroke-dasharray="12 4.5" stroke-dashoffset="0"/>
<path d="M413.5 202.38 L415.5 203.33 L417.5 204.23 L419.5 205.09 L421.5 205.91 L423.5 206.7 L425.5 207.46 L427.5 208.19 L429.5 208.9 L431.5 209.59 L433.5 210.27 L435.5 210.94 L437.5 211.6 L439.5 212.26 L441.5 212.93 L443.5 213.6 L445.5 214.28 L447.5 214.98 L449.5 215.69 L451.5 216.43 L453.5 217.2 L455.5 217.99 L457.5 218.82 L459.5 219.69 L461.5 220.6 L463.5 221.57 L465.5 222.58 L467.5 223.64 L469.5 224.77 L471.5 225.96 L473.5 227.22 L475.5 228.54 L477.5 229.95 L479.5 231.43 L481.5 233 L483.5 234.65 L485.5 236.4 L487.5 238.24 L489.5 240.19 L491.5 242.23 L493.5 244.39 L495.5 246.65 L497.5 249.04 L499.5 251.54 L501.5 254.17 L503.5 256.92 L505 259.07 L505 259 L505.92 260.55 L507.25 262.78 L508.7 265.25 L510 267.5 L511.09 269.41 L512.12 271.22 L513.09 273.04 L514 275 L514.83 277.12 L515.59 279.34 L516.31 281.64 L517 284 L517.67 286.46 L518.31 289.03 L518.92 291.58 L519.5 294 L520.04 296.31 L520.53 298.56 L521.01 300.66 L521.5 302.5 L522 304.07 L522.5 305.42 L523 306.56 L523.5 307.5 L523.98 308.21 L524.46 308.7 L524.95 309.04 L525.5 309.3 L526.19 309.47 L526.98 309.51 L527.7 309.5 L528.2 309.5" fill="none" stroke="#a9a9a9" stroke-width="2.4" stroke-linejoin="round"/>
<path d="M413.5 202.33 L415.5 203.33 L417.5 204.27 L419.5 205.17 L421.5 206.02 L423.5 206.84 L425.5 207.61 L427.5 208.36 L429.5 209.08 L431.5 209.77 L433.5 210.45 L435.5 211.11 L437.5 211.77 L439.5 212.42 L441.5 213.06 L443.5 213.72 L445.5 214.38 L447.5 215.05 L449.5 215.75 L451.5 216.46 L453.5 217.2 L455.5 217.97 L457.5 218.78 L459.5 219.63 L461.5 220.52 L463.5 221.46 L465.5 222.45 L467.5 223.5 L469.5 224.61 L471.5 225.79 L473.5 227.04 L475.5 228.36 L477.5 229.77 L479.5 231.25 L481.5 232.83 L483.5 234.5 L485.5 236.27 L487.5 238.14 L489.5 240.11 L491.5 242.2 L493.5 244.4 L495.5 246.72 L497.5 249.17 L499.5 251.75 L501.5 254.45 L503.5 257.3 L505.5 260.29 L507.5 263.42 L509.5 266.71 L510 267.55 L510 268 L510.95 269.6 L512.31 271.92 L513.77 274.4 L515 276.5 L515.87 278.07 L516.56 279.41 L517.23 280.62 L518 281.8 L518.95 283 L520 284.15 L521.05 285.2 L522 286.1 L522.84 286.83 L523.62 287.41 L524.34 287.87 L525 288.2 L525.59 288.47 L526.11 288.65 L526.58 288.63 L527 288.3 L527.38 287.43 L527.73 286.16 L528 284.88 L528.2 284" fill="none" stroke="#8e1519" stroke-width="2.4" stroke-linejoin="round"/>
<line x1="490" y1="246.9" x2="474.8" y2="246.9" stroke="#000" stroke-width="2.1" stroke-linecap="butt"/>
<path d="M468.8 246.9 L475.8 243.9 L474.3 246.9 L475.8 249.9 Z" fill="#000"/>
<line x1="469.5" y1="280.5" x2="484.8" y2="280.5" stroke="#000" stroke-width="2.1" stroke-linecap="butt"/>
<path d="M490.8 280.5 L483.8 283.5 L485.3 280.5 L483.8 277.5 Z" fill="#000"/>
<line x1="414.2" y1="306.4" x2="436.4" y2="306.4" stroke="#a9a9a9" stroke-width="2.8" stroke-linecap="butt"/>
<line x1="414.2" y1="317" x2="436.4" y2="317" stroke="#8e1519" stroke-width="2.8" stroke-linecap="butt"/>
<text x="438.4" y="309.4" font-size="8.8" font-weight="bold" textLength="54.8" lengthAdjust="spacingAndGlyphs" fill="#222">Blend w/ DIO</text>
<text x="438.4" y="320.5" font-size="8.8" font-weight="bold" textLength="54.8" lengthAdjust="spacingAndGlyphs" fill="#222">Blend w/ DIO</text>
<text x="438.4" y="331.5" font-size="8.8" font-weight="bold" textLength="34" lengthAdjust="spacingAndGlyphs" fill="#222">(etched)</text>
<text x="370.2" y="302.3" font-size="11" font-weight="bold" textLength="73.4" lengthAdjust="spacingAndGlyphs" transform="rotate(-90 370.2 302.3)">|I<tspan font-size="7" dy="3">D</tspan><tspan dy="-3">|</tspan><tspan font-size="7" dy="-5.5">0.5</tspan><tspan dy="5.5"> (10</tspan><tspan font-size="7" dy="-5.5">-3</tspan><tspan dy="5.5"> A</tspan><tspan font-size="7" dy="-5.5">0.5</tspan><tspan dy="5.5">)</tspan></text>
<text x="387.2" y="284.8" font-size="10.4" font-weight="bold" textLength="33.4" lengthAdjust="spacingAndGlyphs" transform="rotate(-90 387.2 284.8)">|I<tspan font-size="6.6" dy="2.6">D</tspan><tspan dy="-2.6">| (A)</tspan></text>
<rect x="593" y="193" width="115.3" height="141.6" fill="none" stroke="#000" stroke-width="2.0"/>
<line x1="589.8" y1="334.6" x2="593" y2="334.6" stroke="#000" stroke-width="1.5" stroke-linecap="butt"/>
<line x1="589.8" y1="263.8" x2="593" y2="263.8" stroke="#000" stroke-width="1.5" stroke-linecap="butt"/>
<line x1="589.8" y1="193" x2="593" y2="193" stroke="#000" stroke-width="1.5" stroke-linecap="butt"/>
<line x1="591" y1="313.29" x2="593" y2="313.29" stroke="#000" stroke-width="1.2" stroke-linecap="butt"/>
<line x1="706.3" y1="313.29" x2="708.3" y2="313.29" stroke="#000" stroke-width="1.2" stroke-linecap="butt"/>
<line x1="591" y1="300.82" x2="593" y2="300.82" stroke="#000" stroke-width="1.2" stroke-linecap="butt"/>
<line x1="706.3" y1="300.82" x2="708.3" y2="300.82" stroke="#000" stroke-width="1.2" stroke-linecap="butt"/>
<line x1="591" y1="291.97" x2="593" y2="291.97" stroke="#000" stroke-width="1.2" stroke-linecap="butt"/>
<line x1="706.3" y1="291.97" x2="708.3" y2="291.97" stroke="#000" stroke-width="1.2" stroke-linecap="butt"/>
<line x1="591" y1="285.11" x2="593" y2="285.11" stroke="#000" stroke-width="1.2" stroke-linecap="butt"/>
<line x1="706.3" y1="285.11" x2="708.3" y2="285.11" stroke="#000" stroke-width="1.2" stroke-linecap="butt"/>
<line x1="591" y1="279.51" x2="593" y2="279.51" stroke="#000" stroke-width="1.2" stroke-linecap="butt"/>
<line x1="706.3" y1="279.51" x2="708.3" y2="279.51" stroke="#000" stroke-width="1.2" stroke-linecap="butt"/>
<line x1="591" y1="274.77" x2="593" y2="274.77" stroke="#000" stroke-width="1.2" stroke-linecap="butt"/>
<line x1="706.3" y1="274.77" x2="708.3" y2="274.77" stroke="#000" stroke-width="1.2" stroke-linecap="butt"/>
<line x1="591" y1="270.66" x2="593" y2="270.66" stroke="#000" stroke-width="1.2" stroke-linecap="butt"/>
<line x1="706.3" y1="270.66" x2="708.3" y2="270.66" stroke="#000" stroke-width="1.2" stroke-linecap="butt"/>
<line x1="591" y1="267.04" x2="593" y2="267.04" stroke="#000" stroke-width="1.2" stroke-linecap="butt"/>
<line x1="706.3" y1="267.04" x2="708.3" y2="267.04" stroke="#000" stroke-width="1.2" stroke-linecap="butt"/>
<line x1="591" y1="242.49" x2="593" y2="242.49" stroke="#000" stroke-width="1.2" stroke-linecap="butt"/>
<line x1="706.3" y1="242.49" x2="708.3" y2="242.49" stroke="#000" stroke-width="1.2" stroke-linecap="butt"/>
<line x1="591" y1="230.02" x2="593" y2="230.02" stroke="#000" stroke-width="1.2" stroke-linecap="butt"/>
<line x1="706.3" y1="230.02" x2="708.3" y2="230.02" stroke="#000" stroke-width="1.2" stroke-linecap="butt"/>
<line x1="591" y1="221.17" x2="593" y2="221.17" stroke="#000" stroke-width="1.2" stroke-linecap="butt"/>
<line x1="706.3" y1="221.17" x2="708.3" y2="221.17" stroke="#000" stroke-width="1.2" stroke-linecap="butt"/>
<line x1="591" y1="214.31" x2="593" y2="214.31" stroke="#000" stroke-width="1.2" stroke-linecap="butt"/>
<line x1="706.3" y1="214.31" x2="708.3" y2="214.31" stroke="#000" stroke-width="1.2" stroke-linecap="butt"/>
<line x1="591" y1="208.71" x2="593" y2="208.71" stroke="#000" stroke-width="1.2" stroke-linecap="butt"/>
<line x1="706.3" y1="208.71" x2="708.3" y2="208.71" stroke="#000" stroke-width="1.2" stroke-linecap="butt"/>
<line x1="591" y1="203.97" x2="593" y2="203.97" stroke="#000" stroke-width="1.2" stroke-linecap="butt"/>
<line x1="706.3" y1="203.97" x2="708.3" y2="203.97" stroke="#000" stroke-width="1.2" stroke-linecap="butt"/>
<line x1="591" y1="199.86" x2="593" y2="199.86" stroke="#000" stroke-width="1.2" stroke-linecap="butt"/>
<line x1="706.3" y1="199.86" x2="708.3" y2="199.86" stroke="#000" stroke-width="1.2" stroke-linecap="butt"/>
<line x1="591" y1="196.24" x2="593" y2="196.24" stroke="#000" stroke-width="1.2" stroke-linecap="butt"/>
<line x1="706.3" y1="196.24" x2="708.3" y2="196.24" stroke="#000" stroke-width="1.2" stroke-linecap="butt"/>
<line x1="593" y1="334.6" x2="593" y2="337.8" stroke="#000" stroke-width="1.5" stroke-linecap="butt"/>
<line x1="612.22" y1="334.6" x2="612.22" y2="337.8" stroke="#000" stroke-width="1.5" stroke-linecap="butt"/>
<line x1="612.22" y1="193" x2="612.22" y2="196.2" stroke="#000" stroke-width="1.5" stroke-linecap="butt"/>
<line x1="631.43" y1="334.6" x2="631.43" y2="337.8" stroke="#000" stroke-width="1.5" stroke-linecap="butt"/>
<line x1="631.43" y1="193" x2="631.43" y2="196.2" stroke="#000" stroke-width="1.5" stroke-linecap="butt"/>
<line x1="650.65" y1="334.6" x2="650.65" y2="337.8" stroke="#000" stroke-width="1.5" stroke-linecap="butt"/>
<line x1="650.65" y1="193" x2="650.65" y2="196.2" stroke="#000" stroke-width="1.5" stroke-linecap="butt"/>
<line x1="669.87" y1="334.6" x2="669.87" y2="337.8" stroke="#000" stroke-width="1.5" stroke-linecap="butt"/>
<line x1="669.87" y1="193" x2="669.87" y2="196.2" stroke="#000" stroke-width="1.5" stroke-linecap="butt"/>
<line x1="689.08" y1="334.6" x2="689.08" y2="337.8" stroke="#000" stroke-width="1.5" stroke-linecap="butt"/>
<line x1="689.08" y1="193" x2="689.08" y2="196.2" stroke="#000" stroke-width="1.5" stroke-linecap="butt"/>
<line x1="708.3" y1="334.6" x2="708.3" y2="337.8" stroke="#000" stroke-width="1.5" stroke-linecap="butt"/>
<rect x="596.4" y="255.2" width="16.9" height="79.4" fill="#d3d3d3" stroke="#000" stroke-width="1.8"/>
<rect x="613.3" y="264.5" width="15.4" height="70.1" fill="#ff8080" stroke="#000" stroke-width="1.8"/>
<rect x="635.5" y="262.5" width="15.4" height="72.1" fill="#d3d3d3" stroke="#000" stroke-width="1.8"/>
<rect x="650.9" y="252.9" width="15.6" height="81.7" fill="#ff8080" stroke="#000" stroke-width="1.8"/>
<rect x="674.5" y="206.8" width="15.6" height="127.8" fill="#d3d3d3" stroke="#000" stroke-width="1.8"/>
<rect x="690.1" y="206" width="14.2" height="128.6" fill="#ff8080" stroke="#000" stroke-width="1.8"/>
<line x1="605.5" y1="252.7" x2="605.5" y2="258.7" stroke="#000" stroke-width="1.5" stroke-linecap="butt"/>
<line x1="602.85" y1="252.7" x2="608.15" y2="252.7" stroke="#000" stroke-width="1.5" stroke-linecap="butt"/>
<line x1="602.85" y1="258.7" x2="608.15" y2="258.7" stroke="#000" stroke-width="1.5" stroke-linecap="butt"/>
<line x1="643.6" y1="262" x2="643.6" y2="263.2" stroke="#000" stroke-width="1.5" stroke-linecap="butt"/>
<line x1="640.95" y1="262" x2="646.25" y2="262" stroke="#000" stroke-width="1.5" stroke-linecap="butt"/>
<line x1="640.95" y1="263.2" x2="646.25" y2="263.2" stroke="#000" stroke-width="1.5" stroke-linecap="butt"/>
<line x1="658.7" y1="245.2" x2="658.7" y2="263.3" stroke="#000" stroke-width="1.5" stroke-linecap="butt"/>
<line x1="656.05" y1="245.2" x2="661.35" y2="245.2" stroke="#000" stroke-width="1.5" stroke-linecap="butt"/>
<line x1="656.05" y1="263.3" x2="661.35" y2="263.3" stroke="#000" stroke-width="1.5" stroke-linecap="butt"/>
<line x1="682.3" y1="205.5" x2="682.3" y2="207.5" stroke="#000" stroke-width="1.5" stroke-linecap="butt"/>
<line x1="679.65" y1="205.5" x2="684.95" y2="205.5" stroke="#000" stroke-width="1.5" stroke-linecap="butt"/>
<line x1="679.65" y1="207.5" x2="684.95" y2="207.5" stroke="#000" stroke-width="1.5" stroke-linecap="butt"/>
<line x1="697.2" y1="204.8" x2="697.2" y2="206.8" stroke="#000" stroke-width="1.5" stroke-linecap="butt"/>
<line x1="694.55" y1="204.8" x2="699.85" y2="204.8" stroke="#000" stroke-width="1.5" stroke-linecap="butt"/>
<line x1="694.55" y1="206.8" x2="699.85" y2="206.8" stroke="#000" stroke-width="1.5" stroke-linecap="butt"/>
<rect x="598.3" y="197.9" width="16.6" height="17.7" fill="none" stroke="#000" stroke-width="2"/>
<rect x="598.3" y="197.9" width="16.6" height="8" fill="#d3d3d3" stroke="#000" stroke-width="2"/>
<rect x="598.3" y="206.4" width="16.6" height="9" fill="#ff8080" stroke="#000" stroke-width="2"/>
<text x="618" y="205" font-size="7.8" font-weight="bold" textLength="27.8" lengthAdjust="spacingAndGlyphs" fill="#222">Pristine</text>
<text x="618" y="213.9" font-size="7.8" font-weight="bold" textLength="46.7" lengthAdjust="spacingAndGlyphs" fill="#222">After etching</text>
<text x="584.2" y="196.6" font-size="9.6" font-weight="bold" text-anchor="end">10</text><text x="589.4" y="192.4" font-size="6.2" font-weight="bold" text-anchor="end">-1</text>
<text x="584.2" y="267.4" font-size="9.6" font-weight="bold" text-anchor="end">10</text><text x="589.4" y="263.2" font-size="6.2" font-weight="bold" text-anchor="end">-2</text>
<text x="584.2" y="338.2" font-size="9.6" font-weight="bold" text-anchor="end">10</text><text x="589.4" y="334" font-size="6.2" font-weight="bold" text-anchor="end">-3</text>
<text x="612.6" y="349.2" font-size="10.9" font-weight="bold" text-anchor="middle" fill="#222">P3HT</text>
<text x="650.7" y="349.2" font-size="10.8" font-weight="bold" text-anchor="middle" fill="#222">Blend</text>
<text x="689.3" y="349.2" font-size="10.8" font-weight="bold" text-anchor="middle" fill="#222">Blend</text>
<text x="689.5" y="362.5" font-size="10.8" font-weight="bold" text-anchor="middle" fill="#222">w/ DIO</text>
<text x="550.3" y="303" font-size="11" font-weight="bold" textLength="73.4" lengthAdjust="spacingAndGlyphs" transform="rotate(-90 550.3 303)">|I<tspan font-size="7" dy="3">D</tspan><tspan dy="-3">|</tspan><tspan font-size="7" dy="-5.5">0.5</tspan><tspan dy="5.5"> (10</tspan><tspan font-size="7" dy="-5.5">-3</tspan><tspan dy="5.5"> A</tspan><tspan font-size="7" dy="-5.5">0.5</tspan><tspan dy="5.5">)</tspan></text>
<text x="568.8" y="318.2" font-size="11" font-weight="bold" textLength="91.7" lengthAdjust="spacingAndGlyphs" transform="rotate(-90 568.8 318.2)">Mobility (cm<tspan font-size="6.5" dy="-5">2</tspan><tspan dy="5">/Vs)</tspan></text>
</svg>
</body></html>
